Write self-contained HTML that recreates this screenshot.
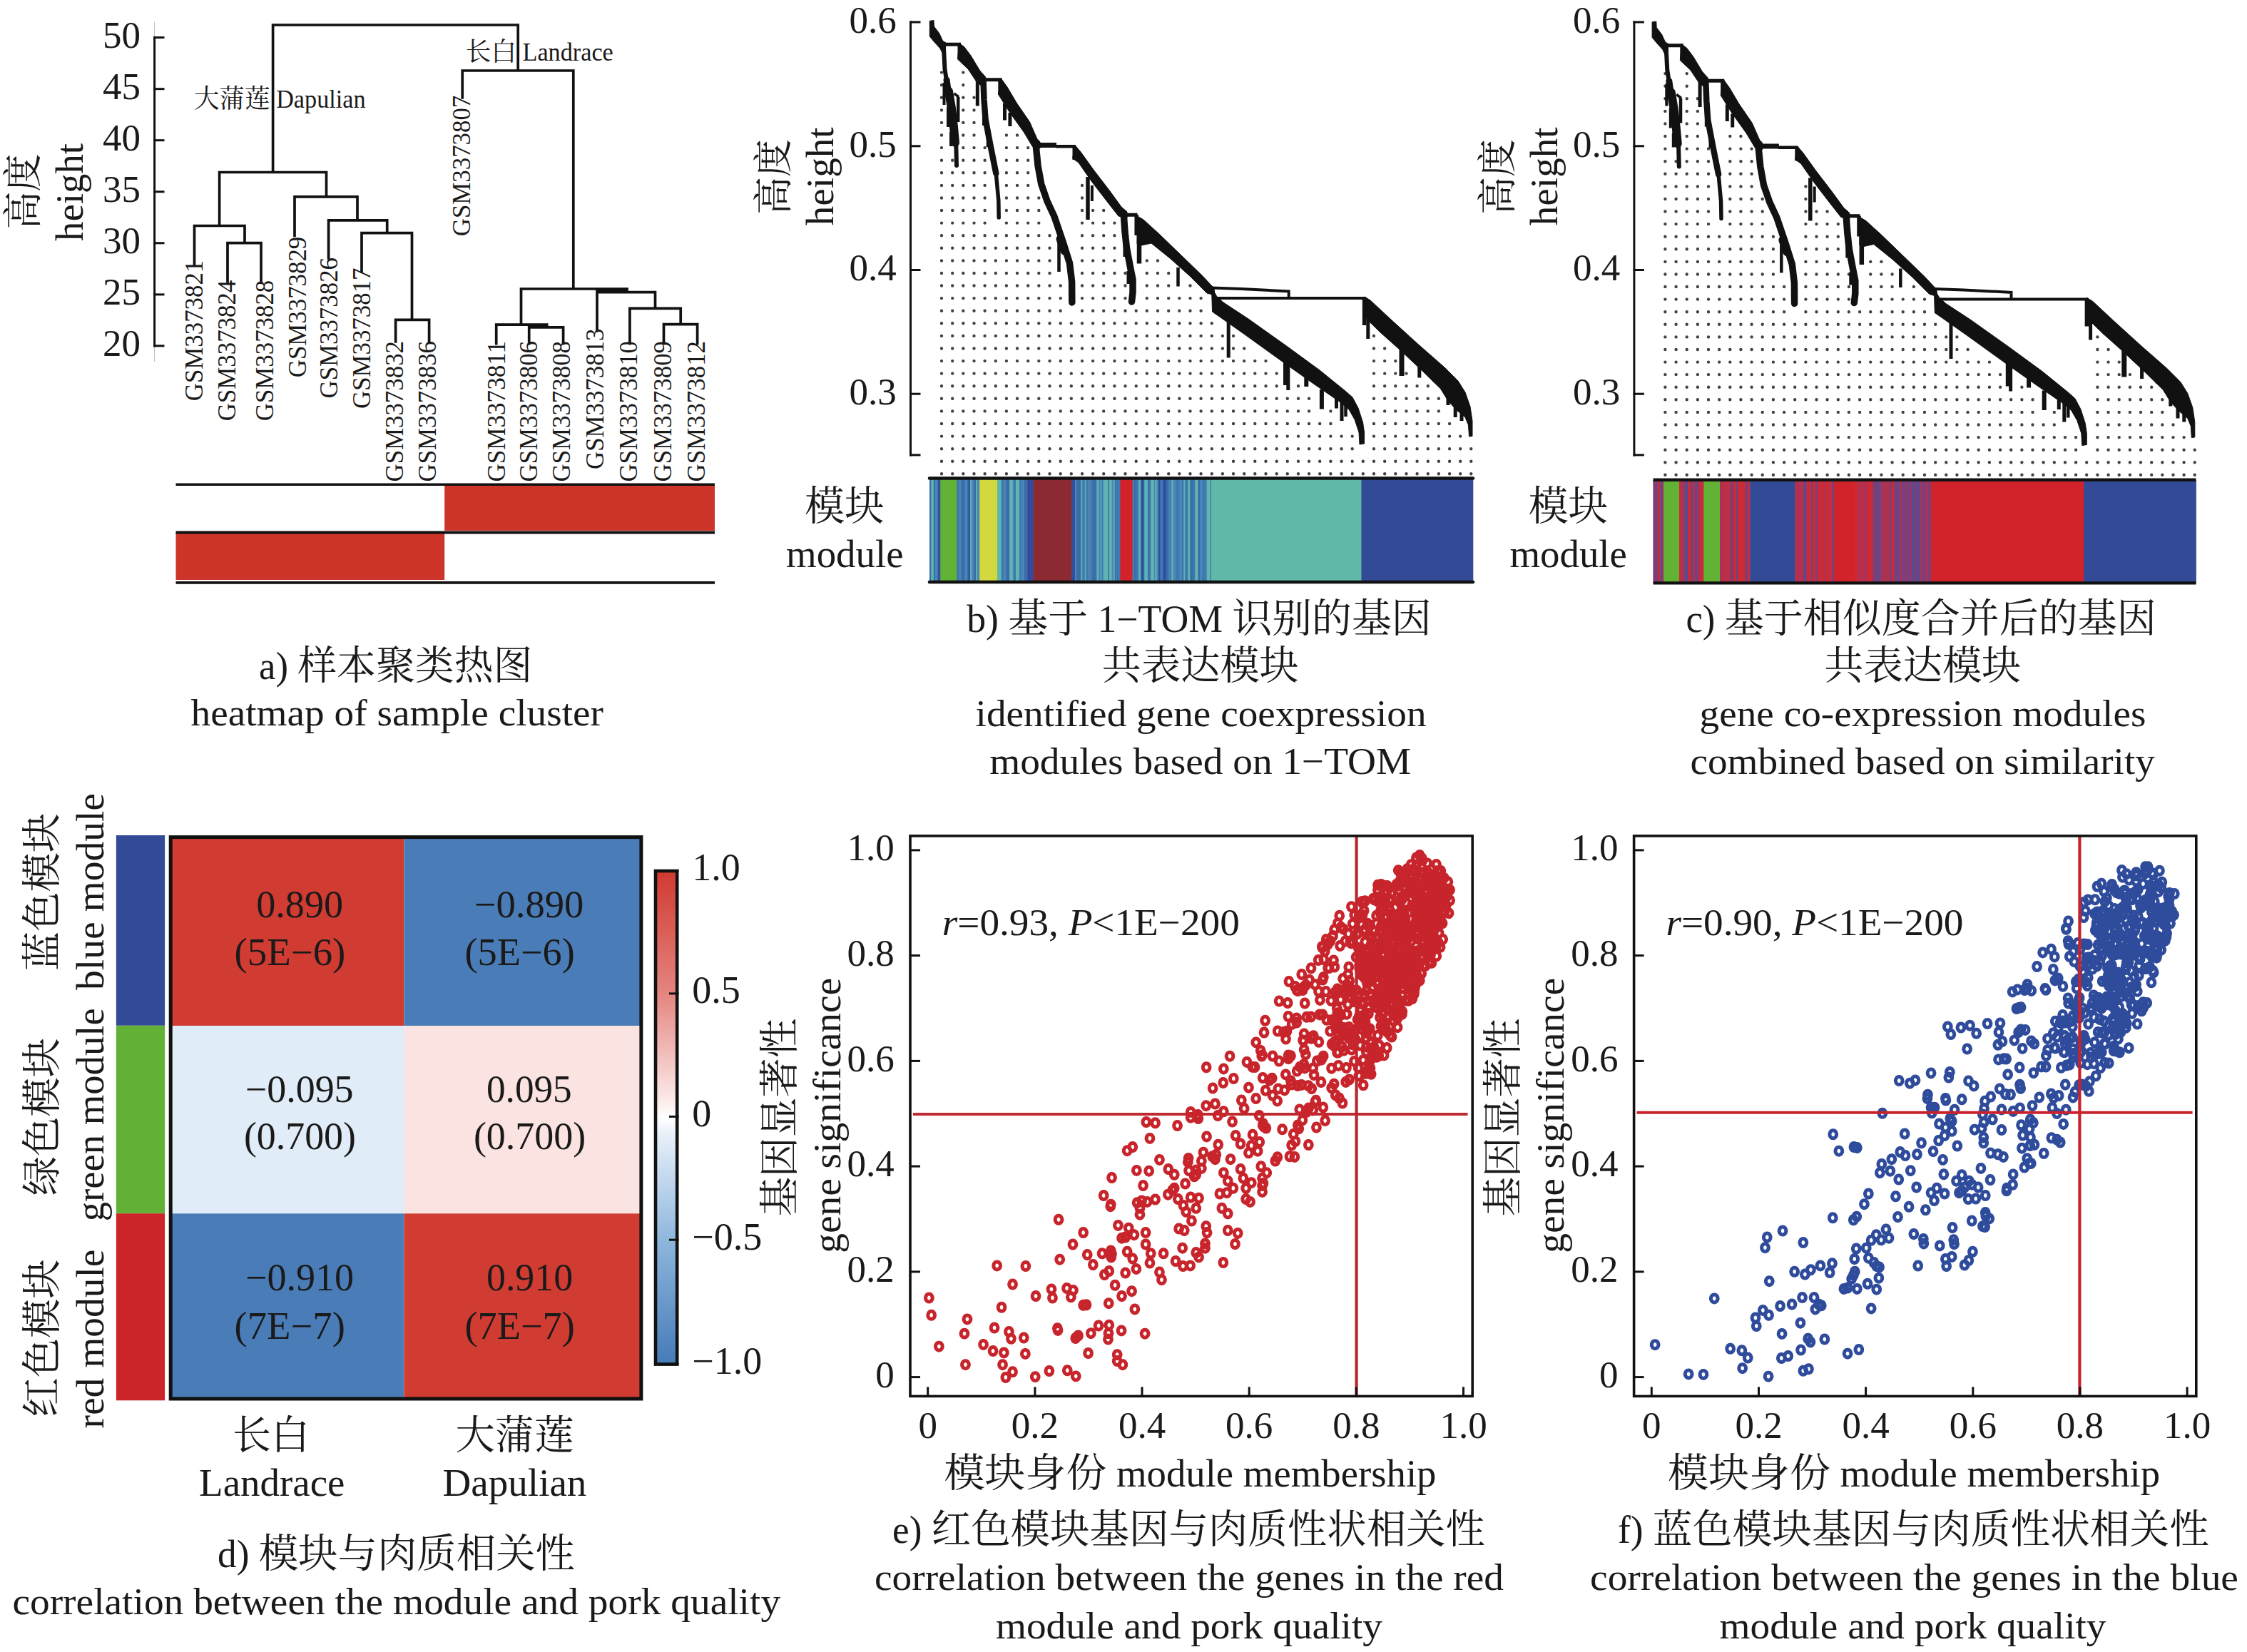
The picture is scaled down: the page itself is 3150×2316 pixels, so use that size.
<!DOCTYPE html>
<html lang="zh"><head><meta charset="utf-8"><title>WGCNA figure</title>
<style>html,body{margin:0;padding:0;background:#fff}svg{display:block}text{font-family:"Liberation Serif","Noto Serif CJK SC",serif;fill:#1a1a1a}.cj{font-family:"Noto Serif CJK SC","Liberation Serif",serif;font-weight:400}.it{font-style:italic}</style></head><body>
<svg width="3150" height="2316" viewBox="0 0 3150 2316">
<rect width="3150" height="2316" fill="#fff"/>
<line x1="216.6" y1="31" x2="216.6" y2="507" stroke="#bbb" stroke-width="1"/>
<line x1="216.6" y1="51.1" x2="216.6" y2="486.4" stroke="#111" stroke-width="3"/>
<line x1="215.1" y1="52.6" x2="230.5" y2="52.6" stroke="#111" stroke-width="3"/>
<text x="197" y="66.9" font-size="53" text-anchor="end">50</text>
<line x1="215.1" y1="124.7" x2="230.5" y2="124.7" stroke="#111" stroke-width="3"/>
<text x="197" y="139" font-size="53" text-anchor="end">45</text>
<line x1="215.1" y1="196.7" x2="230.5" y2="196.7" stroke="#111" stroke-width="3"/>
<text x="197" y="211" font-size="53" text-anchor="end">40</text>
<line x1="215.1" y1="268.8" x2="230.5" y2="268.8" stroke="#111" stroke-width="3"/>
<text x="197" y="283.1" font-size="53" text-anchor="end">35</text>
<line x1="215.1" y1="340.8" x2="230.5" y2="340.8" stroke="#111" stroke-width="3"/>
<text x="197" y="355.1" font-size="53" text-anchor="end">30</text>
<line x1="215.1" y1="412.9" x2="230.5" y2="412.9" stroke="#111" stroke-width="3"/>
<text x="197" y="427.2" font-size="53" text-anchor="end">25</text>
<line x1="215.1" y1="484.9" x2="230.5" y2="484.9" stroke="#111" stroke-width="3"/>
<text x="197" y="499.2" font-size="53" text-anchor="end">20</text>
<text transform="translate(50.5 268.5) rotate(-90)" font-size="55" text-anchor="middle" textLength="106" lengthAdjust="spacingAndGlyphs" class="cj">高度</text>
<text transform="translate(115.6 269.4) rotate(-90)" font-size="54" text-anchor="middle" textLength="137" lengthAdjust="spacingAndGlyphs">height</text>
<path d="M382.6 35L726.2 35M382.6 35L382.6 241.5M726.2 35L726.2 96M307.6 241.5L457.5 241.5M307.6 241.5L307.6 316.5M272.5 316.5L343 316.5M272.5 316.5L272.5 370.6M343 316.5L343 340.6M319 340.6L366 340.6M319 340.6L319 395M366 340.6L366 395M457.5 241.5L457.5 275.8M413 275.8L501 275.8M413 275.8L413 330.5M501 275.8L501 308.8M460.6 308.8L542.7 308.8M460.6 308.8L460.6 362M542.7 308.8L542.7 326.6M507 326.6L577.5 326.6M507 326.6L507 381M577.5 326.6L577.5 448.3M554.6 448.3L601.6 448.3M554.6 448.3L554.6 478.8M601.6 448.3L601.6 478.8M648.2 99L803.8 99M648.2 99L648.2 137M803.8 99L803.8 405M730.5 405L879 405M837 407L879 407M837 409.6L918.5 409.6M730.5 405L730.5 455.2M695.7 455.2L766.7 455.2M741.7 458.8L789.6 458.8M695.7 455.2L695.7 481.7M741.7 455.2L741.7 481.7M789.6 458.8L789.6 481.7M837 409.6L837 463.6M918.5 409.6L918.5 432.4M882.9 432.4L954.2 432.4M882.9 432.4L882.9 481.7M954.2 432.4L954.2 454.7M930.5 454.7L977.6 454.7M930.5 454.7L930.5 481.7M977.6 454.7L977.6 481.7" fill="none" stroke="#111" stroke-width="3.7" stroke-linejoin="miter" stroke-linecap="square"/>
<text x="272" y="151" font-size="35" textLength="240.5" lengthAdjust="spacingAndGlyphs"><tspan class="cj" font-size="36.4">大蒲莲</tspan> Dapulian</text>
<text x="652.8" y="85" font-size="35" textLength="207" lengthAdjust="spacingAndGlyphs"><tspan class="cj" font-size="36.4">长白</tspan> Landrace</text>
<text transform="translate(284.2 562.2) rotate(-90)" font-size="36.5" textLength="197.5" lengthAdjust="spacingAndGlyphs">GSM3373821</text>
<text transform="translate(329.9 590.2) rotate(-90)" font-size="36.5" textLength="197.5" lengthAdjust="spacingAndGlyphs">GSM3373824</text>
<text transform="translate(382.8 590.2) rotate(-90)" font-size="36.5" textLength="197.5" lengthAdjust="spacingAndGlyphs">GSM3373828</text>
<text transform="translate(429.1 529.2) rotate(-90)" font-size="36.5" textLength="197.5" lengthAdjust="spacingAndGlyphs">GSM3373829</text>
<text transform="translate(473 558.5) rotate(-90)" font-size="36.5" textLength="197.5" lengthAdjust="spacingAndGlyphs">GSM3373826</text>
<text transform="translate(519.3 573) rotate(-90)" font-size="36.5" textLength="197.5" lengthAdjust="spacingAndGlyphs">GSM3373817</text>
<text transform="translate(565.1 675.5) rotate(-90)" font-size="36.5" textLength="197.5" lengthAdjust="spacingAndGlyphs">GSM3373832</text>
<text transform="translate(610.8 675.5) rotate(-90)" font-size="36.5" textLength="197.5" lengthAdjust="spacingAndGlyphs">GSM3373836</text>
<text transform="translate(658.8 331.2) rotate(-90)" font-size="36.5" textLength="197.5" lengthAdjust="spacingAndGlyphs">GSM3373807</text>
<text transform="translate(708.1 675.5) rotate(-90)" font-size="36.5" textLength="197.5" lengthAdjust="spacingAndGlyphs">GSM3373811</text>
<text transform="translate(753.1 675.5) rotate(-90)" font-size="36.5" textLength="197.5" lengthAdjust="spacingAndGlyphs">GSM3373806</text>
<text transform="translate(799.1 675.5) rotate(-90)" font-size="36.5" textLength="197.5" lengthAdjust="spacingAndGlyphs">GSM3373808</text>
<text transform="translate(845.6 658) rotate(-90)" font-size="36.5" textLength="197.5" lengthAdjust="spacingAndGlyphs">GSM3373813</text>
<text transform="translate(893.3 675.5) rotate(-90)" font-size="36.5" textLength="197.5" lengthAdjust="spacingAndGlyphs">GSM3373810</text>
<text transform="translate(941.1 675.5) rotate(-90)" font-size="36.5" textLength="197.5" lengthAdjust="spacingAndGlyphs">GSM3373809</text>
<text transform="translate(987.7 675.5) rotate(-90)" font-size="36.5" textLength="197.5" lengthAdjust="spacingAndGlyphs">GSM3373812</text>
<rect x="623.2" y="680" width="378.8" height="64" fill="#CE352A"/>
<rect x="246.5" y="747" width="376.7" height="66" fill="#CE352A"/>
<line x1="246.5" y1="679.3" x2="1002" y2="679.3" stroke="#111" stroke-width="3.6"/>
<line x1="246.5" y1="746.5" x2="1002" y2="746.5" stroke="#111" stroke-width="4"/>
<line x1="246.5" y1="816.9" x2="1002" y2="816.9" stroke="#111" stroke-width="3.6"/>
<text x="363" y="951.8" font-size="54" textLength="383.5" lengthAdjust="spacingAndGlyphs">a) <tspan class="cj" font-size="56.2">样本聚类热图</tspan></text>
<text x="267.6" y="1016.6" font-size="53" textLength="578.4" lengthAdjust="spacingAndGlyphs">heatmap of sample cluster</text>
<defs><g id="tree">
<path d="M1303.3 29.4L1309 28.6L1309.4 37L1316.8 46.8L1321.7 57.5L1326 60L1324.5 82L1318 68L1309 58L1303.3 51Z" fill="#111" stroke="#111" stroke-width="1" stroke-linejoin="round"/>
<path d="M1322.8 64L1324.5 97L1329 126L1334 150L1337.5 175L1340.3 204L1341 232" fill="none" stroke="#111" stroke-width="6" stroke-linejoin="round" stroke-linecap="round"/>
<path d="M1330 128L1334 152L1337 178L1339 200" fill="none" stroke="#111" stroke-width="12" stroke-linejoin="round" stroke-linecap="round"/>
<path d="M1327 112L1331 140" fill="none" stroke="#111" stroke-width="9" stroke-linejoin="round" stroke-linecap="round"/>
<path d="M1344.7 60.5L1352 66L1361 78L1373.5 98.8L1381.7 108L1381.7 121.4L1377.6 121.4L1369.4 115.3L1357 96.7L1342.5 83Z" fill="#111" stroke="#111" stroke-width="1" stroke-linejoin="round"/>
<path d="M1378.5 113L1379.5 140L1381.5 167L1388.5 204L1396.3 243" fill="none" stroke="#111" stroke-width="8.5" stroke-linejoin="round" stroke-linecap="round"/>
<path d="M1396.3 243L1399.8 281L1400.2 305" fill="none" stroke="#111" stroke-width="5.5" stroke-linejoin="round" stroke-linecap="round"/>
<path d="M1403.4 110L1412 122L1425 144L1443.5 170.9L1453.8 194.5L1458 199L1458 208L1447.6 205.8L1435.3 185.3L1414.7 156.4L1399.3 132Z" fill="#111" stroke="#111" stroke-width="1" stroke-linejoin="round"/>
<path d="M1452.5 207L1455 232L1459.7 258L1468 282L1478 303.5L1490.6 340.6L1499.5 369L1502.6 395L1502.8 424" fill="none" stroke="#111" stroke-width="9.5" stroke-linejoin="round" stroke-linecap="round"/>
<path d="M1486 335L1492 352" fill="none" stroke="#111" stroke-width="11" stroke-linejoin="round" stroke-linecap="round"/>
<path d="M1507 203.5L1515 213L1533 238L1556 268L1572 290L1580 297L1580 306L1568 303L1550 280L1530 254L1512 228L1503.6 222Z" fill="#111" stroke="#111" stroke-width="1" stroke-linejoin="round"/>
<path d="M1575.5 304L1577 325L1579.5 348L1584 372L1588 392L1588 410L1586.5 423" fill="none" stroke="#111" stroke-width="9.5" stroke-linejoin="round" stroke-linecap="round"/>
<path d="M1594.5 303L1603 308L1625 328L1655 357L1685 386L1699 401L1702 403.5L1703 414L1692 411L1668 387L1640 362L1614 341L1600 344L1594 342Z" fill="#111" stroke="#111" stroke-width="1" stroke-linejoin="round"/>
<path d="M1698.5 403L1706 416L1715 424L1750 447L1803.5 485L1850 519L1885.8 548L1896 557L1904 572L1910.5 592L1912.5 606L1912.5 622L1906 623L1905 606L1899 588L1891 574L1877 562.5L1840 537L1795 505L1745 469L1711 445L1699.5 437Z" fill="#111" stroke="#111" stroke-width="1" stroke-linejoin="round"/>
<path d="M1913 416L1921 421L1950 448L1988.5 483L2025 515L2044 534L2054 550L2061 570L2064 590L2064 611.5L2059.5 612L2058.5 596L2054 585L2050.5 582L2042 575L2030 562L2019.5 545L1995 521L1962 490L1935 466L1910.5 442Z" fill="#111" stroke="#111" stroke-width="1" stroke-linejoin="round"/>
<path d="M1321 62.3L1347 62.3M1345 62.3L1345 82M1370.3 112L1370.3 148.6M1378 111.8L1404.5 111.8M1379.5 140L1379.5 176M1401.8 111.8L1401.8 130M1408.5 145L1408.5 168.5M1415.9 158L1415.9 177M1506 205L1506 224M1574 301.2L1594.5 301.2M1582 380L1582 398M1722.2 450L1722.2 501.5M1801.5 500L1801.5 540M1805.8 500L1805.8 547M1873.5 558L1873.5 572.5M1881 563L1881 590M1917.8 440L1917.8 475M1989.8 507L1989.8 529.5M2011.4 522L2011.4 536M2040.2 558L2040.2 585M2030 548L2030 568M2049 565L2049 590" fill="none" stroke="#111" stroke-width="5" stroke-linejoin="round"/>
<path d="M1343.2 136L1343.2 171M1385 184L1385 206M1480 205.2L1508 205.2M1484.5 340L1484.5 381M1651.5 375L1651.5 401.5M1886.5 566L1886.5 584" fill="none" stroke="#111" stroke-width="4.5" stroke-linejoin="round"/>
<path d="M1337.5 131L1344 136" fill="none" stroke="#111" stroke-width="3.5" stroke-linejoin="round"/>
<path d="M1323.5 116L1323.5 147M1329 150L1329 178M1333 185L1333 205M1530.9 260L1530.9 282M1698 403.6L1740 405L1808.5 408.4M1806.7 407L1806.7 419M1701 418L1914.5 418" fill="none" stroke="#111" stroke-width="4" stroke-linejoin="round"/>
<path d="M1452 203.6L1481 203.6M1965 488L1965 527" fill="none" stroke="#111" stroke-width="7" stroke-linejoin="round"/>
<path d="M1525 248L1525 308M1593.2 301L1593.2 330M1912.6 418L1912.6 456" fill="none" stroke="#111" stroke-width="5.5" stroke-linejoin="round"/>
<path d="M1577.5 330L1577.5 360M1831.3 522L1831.3 542M1852.9 546L1852.9 573.5" fill="none" stroke="#111" stroke-width="6" stroke-linejoin="round"/>
<path d="M1597 330L1597 369.5" fill="none" stroke="#111" stroke-width="6.5" stroke-linejoin="round"/>
</g><g id="dots">
<path d="M1320 101.6h0M1320 119.2h0M1320 136.8h0M1320 154.4h0M1320 171.9h0M1320 189.5h0M1320 207.1h0M1320 224.7h0M1320 242.3h0M1320 259.9h0M1320 277.5h0M1320 295h0M1320 312.6h0M1320 330.2h0M1320 347.8h0M1320 365.4h0M1320 383h0M1320 400.5h0M1320 418.1h0M1320 435.7h0M1320 453.3h0M1320 470.9h0M1320 488.5h0M1320 506.1h0M1320 523.6h0M1320 541.2h0M1320 558.8h0M1320 576.4h0M1320 594h0M1320 611.6h0M1320 629.2h0M1320 646.7h0M1320 664.3h0M1335.2 224.7h0M1335.2 242.3h0M1335.2 259.9h0M1335.2 277.5h0M1335.2 295h0M1335.2 312.6h0M1335.2 330.2h0M1335.2 347.8h0M1335.2 365.4h0M1335.2 383h0M1335.2 400.5h0M1335.2 418.1h0M1335.2 435.7h0M1335.2 453.3h0M1335.2 470.9h0M1335.2 488.5h0M1335.2 506.1h0M1335.2 523.6h0M1335.2 541.2h0M1335.2 558.8h0M1335.2 576.4h0M1335.2 594h0M1335.2 611.6h0M1335.2 629.2h0M1335.2 646.7h0M1335.2 664.3h0M1350.3 101.6h0M1350.3 119.2h0M1350.3 136.8h0M1350.3 154.4h0M1350.3 171.9h0M1350.3 189.5h0M1350.3 207.1h0M1350.3 224.7h0M1350.3 242.3h0M1350.3 259.9h0M1350.3 277.5h0M1350.3 295h0M1350.3 312.6h0M1350.3 330.2h0M1350.3 347.8h0M1350.3 365.4h0M1350.3 383h0M1350.3 400.5h0M1350.3 418.1h0M1350.3 435.7h0M1350.3 453.3h0M1350.3 470.9h0M1350.3 488.5h0M1350.3 506.1h0M1350.3 523.6h0M1350.3 541.2h0M1350.3 558.8h0M1350.3 576.4h0M1350.3 594h0M1350.3 611.6h0M1350.3 629.2h0M1350.3 646.7h0M1350.3 664.3h0M1365.5 136.8h0M1365.5 154.4h0M1365.5 171.9h0M1365.5 189.5h0M1365.5 207.1h0M1365.5 224.7h0M1365.5 242.3h0M1365.5 259.9h0M1365.5 277.5h0M1365.5 295h0M1365.5 312.6h0M1365.5 330.2h0M1365.5 347.8h0M1365.5 365.4h0M1365.5 383h0M1365.5 400.5h0M1365.5 418.1h0M1365.5 435.7h0M1365.5 453.3h0M1365.5 470.9h0M1365.5 488.5h0M1365.5 506.1h0M1365.5 523.6h0M1365.5 541.2h0M1365.5 558.8h0M1365.5 576.4h0M1365.5 594h0M1365.5 611.6h0M1365.5 629.2h0M1365.5 646.7h0M1365.5 664.3h0M1380.6 207.1h0M1380.6 224.7h0M1380.6 242.3h0M1380.6 259.9h0M1380.6 277.5h0M1380.6 295h0M1380.6 312.6h0M1380.6 330.2h0M1380.6 347.8h0M1380.6 365.4h0M1380.6 383h0M1380.6 400.5h0M1380.6 418.1h0M1380.6 435.7h0M1380.6 453.3h0M1380.6 470.9h0M1380.6 488.5h0M1380.6 506.1h0M1380.6 523.6h0M1380.6 541.2h0M1380.6 558.8h0M1380.6 576.4h0M1380.6 594h0M1380.6 611.6h0M1380.6 629.2h0M1380.6 646.7h0M1380.6 664.3h0M1395.8 330.2h0M1395.8 347.8h0M1395.8 365.4h0M1395.8 383h0M1395.8 400.5h0M1395.8 418.1h0M1395.8 435.7h0M1395.8 453.3h0M1395.8 470.9h0M1395.8 488.5h0M1395.8 506.1h0M1395.8 523.6h0M1395.8 541.2h0M1395.8 558.8h0M1395.8 576.4h0M1395.8 594h0M1395.8 611.6h0M1395.8 629.2h0M1395.8 646.7h0M1395.8 664.3h0M1410.9 189.5h0M1410.9 207.1h0M1410.9 224.7h0M1410.9 242.3h0M1410.9 259.9h0M1410.9 277.5h0M1410.9 295h0M1410.9 312.6h0M1410.9 330.2h0M1410.9 347.8h0M1410.9 365.4h0M1410.9 383h0M1410.9 400.5h0M1410.9 418.1h0M1410.9 435.7h0M1410.9 453.3h0M1410.9 470.9h0M1410.9 488.5h0M1410.9 506.1h0M1410.9 523.6h0M1410.9 541.2h0M1410.9 558.8h0M1410.9 576.4h0M1410.9 594h0M1410.9 611.6h0M1410.9 629.2h0M1410.9 646.7h0M1410.9 664.3h0M1426 189.5h0M1426 207.1h0M1426 224.7h0M1426 242.3h0M1426 259.9h0M1426 277.5h0M1426 295h0M1426 312.6h0M1426 330.2h0M1426 347.8h0M1426 365.4h0M1426 383h0M1426 400.5h0M1426 418.1h0M1426 435.7h0M1426 453.3h0M1426 470.9h0M1426 488.5h0M1426 506.1h0M1426 523.6h0M1426 541.2h0M1426 558.8h0M1426 576.4h0M1426 594h0M1426 611.6h0M1426 629.2h0M1426 646.7h0M1426 664.3h0M1441.2 207.1h0M1441.2 224.7h0M1441.2 242.3h0M1441.2 259.9h0M1441.2 277.5h0M1441.2 295h0M1441.2 312.6h0M1441.2 330.2h0M1441.2 347.8h0M1441.2 365.4h0M1441.2 383h0M1441.2 400.5h0M1441.2 418.1h0M1441.2 435.7h0M1441.2 453.3h0M1441.2 470.9h0M1441.2 488.5h0M1441.2 506.1h0M1441.2 523.6h0M1441.2 541.2h0M1441.2 558.8h0M1441.2 576.4h0M1441.2 594h0M1441.2 611.6h0M1441.2 629.2h0M1441.2 646.7h0M1441.2 664.3h0M1456.3 277.5h0M1456.3 295h0M1456.3 312.6h0M1456.3 330.2h0M1456.3 347.8h0M1456.3 365.4h0M1456.3 383h0M1456.3 400.5h0M1456.3 418.1h0M1456.3 435.7h0M1456.3 453.3h0M1456.3 470.9h0M1456.3 488.5h0M1456.3 506.1h0M1456.3 523.6h0M1456.3 541.2h0M1456.3 558.8h0M1456.3 576.4h0M1456.3 594h0M1456.3 611.6h0M1456.3 629.2h0M1456.3 646.7h0M1456.3 664.3h0M1471.5 330.2h0M1471.5 347.8h0M1471.5 365.4h0M1471.5 383h0M1471.5 400.5h0M1471.5 418.1h0M1471.5 435.7h0M1471.5 453.3h0M1471.5 470.9h0M1471.5 488.5h0M1471.5 506.1h0M1471.5 523.6h0M1471.5 541.2h0M1471.5 558.8h0M1471.5 576.4h0M1471.5 594h0M1471.5 611.6h0M1471.5 629.2h0M1471.5 646.7h0M1471.5 664.3h0M1486.7 400.5h0M1486.7 418.1h0M1486.7 435.7h0M1486.7 453.3h0M1486.7 470.9h0M1486.7 488.5h0M1486.7 506.1h0M1486.7 523.6h0M1486.7 541.2h0M1486.7 558.8h0M1486.7 576.4h0M1486.7 594h0M1486.7 611.6h0M1486.7 629.2h0M1486.7 646.7h0M1486.7 664.3h0M1501.8 453.3h0M1501.8 470.9h0M1501.8 488.5h0M1501.8 506.1h0M1501.8 523.6h0M1501.8 541.2h0M1501.8 558.8h0M1501.8 576.4h0M1501.8 594h0M1501.8 611.6h0M1501.8 629.2h0M1501.8 646.7h0M1501.8 664.3h0M1517 259.9h0M1517 277.5h0M1517 295h0M1517 312.6h0M1517 330.2h0M1517 347.8h0M1517 365.4h0M1517 383h0M1517 400.5h0M1517 418.1h0M1517 435.7h0M1517 453.3h0M1517 470.9h0M1517 488.5h0M1517 506.1h0M1517 523.6h0M1517 541.2h0M1517 558.8h0M1517 576.4h0M1517 594h0M1517 611.6h0M1517 629.2h0M1517 646.7h0M1517 664.3h0M1532.1 295h0M1532.1 312.6h0M1532.1 330.2h0M1532.1 347.8h0M1532.1 365.4h0M1532.1 383h0M1532.1 400.5h0M1532.1 418.1h0M1532.1 435.7h0M1532.1 453.3h0M1532.1 470.9h0M1532.1 488.5h0M1532.1 506.1h0M1532.1 523.6h0M1532.1 541.2h0M1532.1 558.8h0M1532.1 576.4h0M1532.1 594h0M1532.1 611.6h0M1532.1 629.2h0M1532.1 646.7h0M1532.1 664.3h0M1547.2 295h0M1547.2 312.6h0M1547.2 330.2h0M1547.2 347.8h0M1547.2 365.4h0M1547.2 383h0M1547.2 400.5h0M1547.2 418.1h0M1547.2 435.7h0M1547.2 453.3h0M1547.2 470.9h0M1547.2 488.5h0M1547.2 506.1h0M1547.2 523.6h0M1547.2 541.2h0M1547.2 558.8h0M1547.2 576.4h0M1547.2 594h0M1547.2 611.6h0M1547.2 629.2h0M1547.2 646.7h0M1547.2 664.3h0M1562.4 312.6h0M1562.4 330.2h0M1562.4 347.8h0M1562.4 365.4h0M1562.4 383h0M1562.4 400.5h0M1562.4 418.1h0M1562.4 435.7h0M1562.4 453.3h0M1562.4 470.9h0M1562.4 488.5h0M1562.4 506.1h0M1562.4 523.6h0M1562.4 541.2h0M1562.4 558.8h0M1562.4 576.4h0M1562.4 594h0M1562.4 611.6h0M1562.4 629.2h0M1562.4 646.7h0M1562.4 664.3h0M1577.5 383h0M1577.5 400.5h0M1577.5 418.1h0M1577.5 435.7h0M1577.5 453.3h0M1577.5 470.9h0M1577.5 488.5h0M1577.5 506.1h0M1577.5 523.6h0M1577.5 541.2h0M1577.5 558.8h0M1577.5 576.4h0M1577.5 594h0M1577.5 611.6h0M1577.5 629.2h0M1577.5 646.7h0M1577.5 664.3h0M1592.7 435.7h0M1592.7 453.3h0M1592.7 470.9h0M1592.7 488.5h0M1592.7 506.1h0M1592.7 523.6h0M1592.7 541.2h0M1592.7 558.8h0M1592.7 576.4h0M1592.7 594h0M1592.7 611.6h0M1592.7 629.2h0M1592.7 646.7h0M1592.7 664.3h0M1607.8 365.4h0M1607.8 383h0M1607.8 400.5h0M1607.8 418.1h0M1607.8 435.7h0M1607.8 453.3h0M1607.8 470.9h0M1607.8 488.5h0M1607.8 506.1h0M1607.8 523.6h0M1607.8 541.2h0M1607.8 558.8h0M1607.8 576.4h0M1607.8 594h0M1607.8 611.6h0M1607.8 629.2h0M1607.8 646.7h0M1607.8 664.3h0M1623 365.4h0M1623 383h0M1623 400.5h0M1623 418.1h0M1623 435.7h0M1623 453.3h0M1623 470.9h0M1623 488.5h0M1623 506.1h0M1623 523.6h0M1623 541.2h0M1623 558.8h0M1623 576.4h0M1623 594h0M1623 611.6h0M1623 629.2h0M1623 646.7h0M1623 664.3h0M1638.2 383h0M1638.2 400.5h0M1638.2 418.1h0M1638.2 435.7h0M1638.2 453.3h0M1638.2 470.9h0M1638.2 488.5h0M1638.2 506.1h0M1638.2 523.6h0M1638.2 541.2h0M1638.2 558.8h0M1638.2 576.4h0M1638.2 594h0M1638.2 611.6h0M1638.2 629.2h0M1638.2 646.7h0M1638.2 664.3h0M1653.3 418.1h0M1653.3 435.7h0M1653.3 453.3h0M1653.3 470.9h0M1653.3 488.5h0M1653.3 506.1h0M1653.3 523.6h0M1653.3 541.2h0M1653.3 558.8h0M1653.3 576.4h0M1653.3 594h0M1653.3 611.6h0M1653.3 629.2h0M1653.3 646.7h0M1653.3 664.3h0M1668.5 400.5h0M1668.5 418.1h0M1668.5 435.7h0M1668.5 453.3h0M1668.5 470.9h0M1668.5 488.5h0M1668.5 506.1h0M1668.5 523.6h0M1668.5 541.2h0M1668.5 558.8h0M1668.5 576.4h0M1668.5 594h0M1668.5 611.6h0M1668.5 629.2h0M1668.5 646.7h0M1668.5 664.3h0M1683.6 418.1h0M1683.6 435.7h0M1683.6 453.3h0M1683.6 470.9h0M1683.6 488.5h0M1683.6 506.1h0M1683.6 523.6h0M1683.6 541.2h0M1683.6 558.8h0M1683.6 576.4h0M1683.6 594h0M1683.6 611.6h0M1683.6 629.2h0M1683.6 646.7h0M1683.6 664.3h0M1698.8 453.3h0M1698.8 470.9h0M1698.8 488.5h0M1698.8 506.1h0M1698.8 523.6h0M1698.8 541.2h0M1698.8 558.8h0M1698.8 576.4h0M1698.8 594h0M1698.8 611.6h0M1698.8 629.2h0M1698.8 646.7h0M1698.8 664.3h0M1713.9 470.9h0M1713.9 488.5h0M1713.9 506.1h0M1713.9 523.6h0M1713.9 541.2h0M1713.9 558.8h0M1713.9 576.4h0M1713.9 594h0M1713.9 611.6h0M1713.9 629.2h0M1713.9 646.7h0M1713.9 664.3h0M1729 470.9h0M1729 488.5h0M1729 506.1h0M1729 523.6h0M1729 541.2h0M1729 558.8h0M1729 576.4h0M1729 594h0M1729 611.6h0M1729 629.2h0M1729 646.7h0M1729 664.3h0M1744.2 488.5h0M1744.2 506.1h0M1744.2 523.6h0M1744.2 541.2h0M1744.2 558.8h0M1744.2 576.4h0M1744.2 594h0M1744.2 611.6h0M1744.2 629.2h0M1744.2 646.7h0M1744.2 664.3h0M1759.3 506.1h0M1759.3 523.6h0M1759.3 541.2h0M1759.3 558.8h0M1759.3 576.4h0M1759.3 594h0M1759.3 611.6h0M1759.3 629.2h0M1759.3 646.7h0M1759.3 664.3h0M1774.5 506.1h0M1774.5 523.6h0M1774.5 541.2h0M1774.5 558.8h0M1774.5 576.4h0M1774.5 594h0M1774.5 611.6h0M1774.5 629.2h0M1774.5 646.7h0M1774.5 664.3h0M1789.7 523.6h0M1789.7 541.2h0M1789.7 558.8h0M1789.7 576.4h0M1789.7 594h0M1789.7 611.6h0M1789.7 629.2h0M1789.7 646.7h0M1789.7 664.3h0M1804.8 558.8h0M1804.8 576.4h0M1804.8 594h0M1804.8 611.6h0M1804.8 629.2h0M1804.8 646.7h0M1804.8 664.3h0M1820 541.2h0M1820 558.8h0M1820 576.4h0M1820 594h0M1820 611.6h0M1820 629.2h0M1820 646.7h0M1820 664.3h0M1835.1 558.8h0M1835.1 576.4h0M1835.1 594h0M1835.1 611.6h0M1835.1 629.2h0M1835.1 646.7h0M1835.1 664.3h0M1850.2 594h0M1850.2 611.6h0M1850.2 629.2h0M1850.2 646.7h0M1850.2 664.3h0M1865.4 576.4h0M1865.4 594h0M1865.4 611.6h0M1865.4 629.2h0M1865.4 646.7h0M1865.4 664.3h0M1880.6 611.6h0M1880.6 629.2h0M1880.6 646.7h0M1880.6 664.3h0M1895.7 611.6h0M1895.7 629.2h0M1895.7 646.7h0M1895.7 664.3h0M1910.8 646.7h0M1910.8 664.3h0M1926 470.9h0M1926 488.5h0M1926 506.1h0M1926 523.6h0M1926 541.2h0M1926 558.8h0M1926 576.4h0M1926 594h0M1926 611.6h0M1926 629.2h0M1926 646.7h0M1926 664.3h0M1941.2 488.5h0M1941.2 506.1h0M1941.2 523.6h0M1941.2 541.2h0M1941.2 558.8h0M1941.2 576.4h0M1941.2 594h0M1941.2 611.6h0M1941.2 629.2h0M1941.2 646.7h0M1941.2 664.3h0M1956.3 506.1h0M1956.3 523.6h0M1956.3 541.2h0M1956.3 558.8h0M1956.3 576.4h0M1956.3 594h0M1956.3 611.6h0M1956.3 629.2h0M1956.3 646.7h0M1956.3 664.3h0M1971.5 523.6h0M1971.5 541.2h0M1971.5 558.8h0M1971.5 576.4h0M1971.5 594h0M1971.5 611.6h0M1971.5 629.2h0M1971.5 646.7h0M1971.5 664.3h0M1986.6 541.2h0M1986.6 558.8h0M1986.6 576.4h0M1986.6 594h0M1986.6 611.6h0M1986.6 629.2h0M1986.6 646.7h0M1986.6 664.3h0M2001.8 541.2h0M2001.8 558.8h0M2001.8 576.4h0M2001.8 594h0M2001.8 611.6h0M2001.8 629.2h0M2001.8 646.7h0M2001.8 664.3h0M2016.9 558.8h0M2016.9 576.4h0M2016.9 594h0M2016.9 611.6h0M2016.9 629.2h0M2016.9 646.7h0M2016.9 664.3h0M2032.1 594h0M2032.1 611.6h0M2032.1 629.2h0M2032.1 646.7h0M2032.1 664.3h0M2047.2 611.6h0M2047.2 629.2h0M2047.2 646.7h0M2047.2 664.3h0M2062.3 629.2h0M2062.3 646.7h0M2062.3 664.3h0" fill="none" stroke="#454045" stroke-width="4.4" stroke-linecap="round"/>
</g></defs>
<use href="#dots" x="0" y="0"/>
<use href="#tree" x="0" y="0"/>
<line x1="1276.5" y1="29.5" x2="1276.5" y2="639.4" stroke="#111" stroke-width="3"/>
<line x1="1275" y1="31" x2="1290.5" y2="31" stroke="#111" stroke-width="3"/>
<text x="1256.8" y="45.8" font-size="53" text-anchor="end">0.6</text>
<line x1="1275" y1="204.8" x2="1290.5" y2="204.8" stroke="#111" stroke-width="3"/>
<text x="1256.8" y="219.6" font-size="53" text-anchor="end">0.5</text>
<line x1="1275" y1="378.5" x2="1290.5" y2="378.5" stroke="#111" stroke-width="3"/>
<text x="1256.8" y="393.3" font-size="53" text-anchor="end">0.4</text>
<line x1="1275" y1="552.2" x2="1290.5" y2="552.2" stroke="#111" stroke-width="3"/>
<text x="1256.8" y="567" font-size="53" text-anchor="end">0.3</text>
<line x1="1275" y1="637.9" x2="1290.5" y2="637.9" stroke="#111" stroke-width="3"/>
<text transform="translate(1103.2 248) rotate(-90)" font-size="55" text-anchor="middle" textLength="106" lengthAdjust="spacingAndGlyphs" class="cj">高度</text>
<text transform="translate(1168.4 247.3) rotate(-90)" font-size="54" text-anchor="middle" textLength="138" lengthAdjust="spacingAndGlyphs">height</text>
<text x="1128.3" y="728.8" font-size="56.5" textLength="111.5" lengthAdjust="spacingAndGlyphs" class="cj">模块</text>
<text x="1102" y="794.5" font-size="54" textLength="164.5" lengthAdjust="spacingAndGlyphs">module</text>
<rect x="1303" y="670.5" width="762" height="145.5" fill="#3F78AE"/>
<path d="M1303 670.5h2.6v145.5h-2.6zM1308.6 670.5h2.7v145.5h-2.7zM1313.9 670.5h1.7v145.5h-1.7zM1317.9 670.5h0.7v145.5h-0.7z" fill="#3B6CA8"/>
<path d="M1305.3 670.5h3.6v145.5h-3.6z" fill="#5CB3B6"/>
<path d="M1311 670.5h3.2v145.5h-3.2z" fill="#4A86B8"/>
<path d="M1315.3 670.5h2.9v145.5h-2.9z" fill="#2F4F9F"/>
<rect x="1318.3" y="670.5" width="23.3" height="145.5" fill="#62B236"/>
<path d="M1341.3 670.5h3.6v145.5h-3.6z" fill="#3F78AE"/>
<path d="M1344.6 670.5h3.4v145.5h-3.4zM1352.1 670.5h4.3v145.5h-4.3zM1361.8 670.5h3.6v145.5h-3.6zM1369.5 670.5h2.9v145.5h-2.9zM1372.1 670.5h1.4v145.5h-1.4z" fill="#4A86B8"/>
<path d="M1347.7 670.5h4.7v145.5h-4.7zM1356.1 670.5h2v145.5h-2zM1365.1 670.5h3.3v145.5h-3.3z" fill="#3B6CA8"/>
<path d="M1357.8 670.5h2.5v145.5h-2.5z" fill="#2F4F9F"/>
<path d="M1360 670.5h2.1v145.5h-2.1z" fill="#5CB3B6"/>
<path d="M1368.1 670.5h1.7v145.5h-1.7z" fill="#62B7AD"/>
<rect x="1373.2" y="670.5" width="25.2" height="145.5" fill="#D2D83E"/>
<path d="M1398.1 670.5h4.1v145.5h-4.1zM1414.9 670.5h2.9v145.5h-2.9zM1419.2 670.5h1.6v145.5h-1.6zM1423.6 670.5h2.5v145.5h-2.5z" fill="#62B7AD"/>
<path d="M1401.9 670.5h2.3v145.5h-2.3zM1417.5 670.5h2v145.5h-2zM1425.8 670.5h3.5v145.5h-3.5zM1439.4 670.5h1.1v145.5h-1.1z" fill="#5CB3B6"/>
<path d="M1403.9 670.5h3.2v145.5h-3.2zM1420.5 670.5h3.4v145.5h-3.4zM1429 670.5h3v145.5h-3z" fill="#3F78AE"/>
<path d="M1406.9 670.5h3.9v145.5h-3.9zM1431.7 670.5h4.6v145.5h-4.6z" fill="#4A86B8"/>
<path d="M1410.5 670.5h4.7v145.5h-4.7zM1436 670.5h3.7v145.5h-3.7z" fill="#3B6CA8"/>
<rect x="1440.2" y="670.5" width="8.7" height="145.5" fill="#334B9F"/>
<rect x="1448.6" y="670.5" width="54.1" height="145.5" fill="#8B2A30"/>
<path d="M1502.4 670.5h4.8v145.5h-4.8z" fill="#2F4F9F"/>
<path d="M1506.9 670.5h2.4v145.5h-2.4zM1516.5 670.5h1.9v145.5h-1.9zM1525.1 670.5h4.2v145.5h-4.2zM1536 670.5h2.1v145.5h-2.1zM1539.7 670.5h3.4v145.5h-3.4zM1558.4 670.5h2.8v145.5h-2.8zM1563.8 670.5h2.2v145.5h-2.2zM1567.1 670.5h2v145.5h-2z" fill="#4A86B8"/>
<path d="M1509 670.5h3.7v145.5h-3.7zM1512.4 670.5h3v145.5h-3zM1531.6 670.5h4.7v145.5h-4.7zM1562.4 670.5h1.7v145.5h-1.7zM1565.7 670.5h1.7v145.5h-1.7zM1570.1 670.5h0.6v145.5h-0.6z" fill="#3B6CA8"/>
<path d="M1515.1 670.5h1.7v145.5h-1.7zM1550 670.5h3.5v145.5h-3.5zM1554.6 670.5h4.1v145.5h-4.1z" fill="#62B7AD"/>
<path d="M1518.2 670.5h2.8v145.5h-2.8zM1522.1 670.5h3.3v145.5h-3.3zM1529 670.5h2.9v145.5h-2.9zM1544.1 670.5h2.7v145.5h-2.7zM1553.2 670.5h1.7v145.5h-1.7zM1568.8 670.5h1.6v145.5h-1.6z" fill="#3F78AE"/>
<path d="M1520.7 670.5h1.8v145.5h-1.8zM1537.8 670.5h2.3v145.5h-2.3zM1542.9 670.5h1.5v145.5h-1.5zM1546.5 670.5h3.8v145.5h-3.8zM1560.9 670.5h1.8v145.5h-1.8z" fill="#5CB3B6"/>
<rect x="1570.4" y="670.5" width="17.5" height="145.5" fill="#D2232A"/>
<path d="M1587.6 670.5h2.3v145.5h-2.3zM1617.3 670.5h2.4v145.5h-2.4zM1621.1 670.5h3.3v145.5h-3.3zM1638 670.5h3.2v145.5h-3.2zM1644.3 670.5h4.7v145.5h-4.7zM1653 670.5h4.7v145.5h-4.7zM1681.8 670.5h4.1v145.5h-4.1zM1689.5 670.5h2.8v145.5h-2.8z" fill="#4A86B8"/>
<path d="M1589.6 670.5h2.7v145.5h-2.7zM1598.8 670.5h1.8v145.5h-1.8zM1602.6 670.5h2v145.5h-2zM1608.7 670.5h2v145.5h-2zM1634.4 670.5h3.9v145.5h-3.9zM1640.9 670.5h1.6v145.5h-1.6zM1657.3 670.5h2.2v145.5h-2.2zM1668 670.5h4.1v145.5h-4.1zM1679 670.5h3.1v145.5h-3.1zM1696.3 670.5h1.8v145.5h-1.8z" fill="#3B6CA8"/>
<path d="M1592 670.5h4.3v145.5h-4.3zM1610.3 670.5h3.2v145.5h-3.2zM1626 670.5h4.8v145.5h-4.8zM1648.7 670.5h4.6v145.5h-4.6zM1661.1 670.5h4.5v145.5h-4.5zM1671.9 670.5h3.7v145.5h-3.7zM1685.6 670.5h4.1v145.5h-4.1z" fill="#3F78AE"/>
<path d="M1596 670.5h3v145.5h-3zM1604.3 670.5h4.6v145.5h-4.6zM1659.2 670.5h2.1v145.5h-2.1zM1665.3 670.5h3.1v145.5h-3.1z" fill="#5CB3B6"/>
<path d="M1600.3 670.5h2.6v145.5h-2.6zM1624.1 670.5h2.2v145.5h-2.2zM1630.5 670.5h4.2v145.5h-4.2z" fill="#2F4F9F"/>
<path d="M1613.3 670.5h4.3v145.5h-4.3zM1619.4 670.5h2.1v145.5h-2.1zM1642.2 670.5h2.4v145.5h-2.4zM1675.3 670.5h4.1v145.5h-4.1zM1692 670.5h4.6v145.5h-4.6z" fill="#62B7AD"/>
<rect x="1697.8" y="670.5" width="211" height="145.5" fill="#5FB8A8"/>
<rect x="1908.5" y="670.5" width="156.8" height="145.5" fill="#334B96"/>
<line x1="1303" y1="670.5" x2="2065" y2="670.5" stroke="#111" stroke-width="4.6" stroke-linecap="round"/>
<line x1="1303" y1="816" x2="2065" y2="816" stroke="#111" stroke-width="4.6" stroke-linecap="round"/>
<use href="#dots" x="1014.4" y="1.5"/>
<use href="#tree" x="1012.8" y="1.5"/>
<line x1="2290.9" y1="29.5" x2="2290.9" y2="639.4" stroke="#111" stroke-width="3"/>
<line x1="2289.4" y1="31" x2="2304.9" y2="31" stroke="#111" stroke-width="3"/>
<text x="2271.2" y="45.8" font-size="53" text-anchor="end">0.6</text>
<line x1="2289.4" y1="204.8" x2="2304.9" y2="204.8" stroke="#111" stroke-width="3"/>
<text x="2271.2" y="219.6" font-size="53" text-anchor="end">0.5</text>
<line x1="2289.4" y1="378.5" x2="2304.9" y2="378.5" stroke="#111" stroke-width="3"/>
<text x="2271.2" y="393.3" font-size="53" text-anchor="end">0.4</text>
<line x1="2289.4" y1="552.2" x2="2304.9" y2="552.2" stroke="#111" stroke-width="3"/>
<text x="2271.2" y="567" font-size="53" text-anchor="end">0.3</text>
<line x1="2289.4" y1="637.9" x2="2304.9" y2="637.9" stroke="#111" stroke-width="3"/>
<text transform="translate(2117.6 248) rotate(-90)" font-size="55" text-anchor="middle" textLength="106" lengthAdjust="spacingAndGlyphs" class="cj">高度</text>
<text transform="translate(2182.8 247.3) rotate(-90)" font-size="54" text-anchor="middle" textLength="138" lengthAdjust="spacingAndGlyphs">height</text>
<text x="2142.7" y="728.8" font-size="56.5" textLength="111.5" lengthAdjust="spacingAndGlyphs" class="cj">模块</text>
<text x="2116.4" y="794.5" font-size="54" textLength="164.5" lengthAdjust="spacingAndGlyphs">module</text>
<rect x="2317.6" y="672.8" width="760.9" height="144.6" fill="#A8335A"/>
<path d="M2317.6 672.8h3v144.6h-3zM2320.3 672.8h4.5v144.6h-4.5z" fill="#7A3F7A"/>
<path d="M2324.5 672.8h3.4v144.6h-3.4zM2330.6 672.8h1.9v144.6h-1.9z" fill="#CE2A33"/>
<path d="M2327.7 672.8h3.2v144.6h-3.2z" fill="#5A4A90"/>
<rect x="2332.2" y="672.8" width="22.1" height="144.6" fill="#62B236"/>
<path d="M2354 672.8h2.5v144.6h-2.5zM2365.8 672.8h3.5v144.6h-3.5zM2370.3 672.8h1.7v144.6h-1.7zM2382.1 672.8h3v144.6h-3z" fill="#CE2A33"/>
<path d="M2356.2 672.8h4.2v144.6h-4.2zM2379.2 672.8h3.1v144.6h-3.1z" fill="#A8335A"/>
<path d="M2360.1 672.8h1.6v144.6h-1.6zM2373.7 672.8h3v144.6h-3zM2384.8 672.8h3.9v144.6h-3.9z" fill="#C02F45"/>
<path d="M2361.4 672.8h4.7v144.6h-4.7zM2376.3 672.8h3.2v144.6h-3.2z" fill="#5A4A90"/>
<path d="M2369 672.8h1.5v144.6h-1.5zM2371.7 672.8h2.3v144.6h-2.3z" fill="#7A3F7A"/>
<rect x="2388.4" y="672.8" width="22.9" height="144.6" fill="#62B236"/>
<path d="M2411 672.8h4.3v144.6h-4.3zM2417.2 672.8h2.5v144.6h-2.5z" fill="#A8335A"/>
<path d="M2415 672.8h2.5v144.6h-2.5zM2424.4 672.8h1.5v144.6h-1.5zM2429.8 672.8h4.7v144.6h-4.7zM2435.6 672.8h4.1v144.6h-4.1zM2440.9 672.8h4v144.6h-4zM2444.6 672.8h2.3v144.6h-2.3zM2450.4 672.8h3v144.6h-3z" fill="#CE2A33"/>
<path d="M2419.4 672.8h2.8v144.6h-2.8zM2421.9 672.8h2.8v144.6h-2.8zM2439.4 672.8h1.8v144.6h-1.8z" fill="#C02F45"/>
<path d="M2425.6 672.8h4.5v144.6h-4.5zM2446.6 672.8h4.1v144.6h-4.1z" fill="#7A3F7A"/>
<path d="M2434.2 672.8h1.7v144.6h-1.7zM2453.1 672.8h1.2v144.6h-1.2z" fill="#5A4A90"/>
<rect x="2454" y="672.8" width="62.2" height="144.6" fill="#334B96"/>
<path d="M2515.9 672.8h1.9v144.6h-1.9zM2545.2 672.8h3.1v144.6h-3.1zM2568.2 672.8h3.5v144.6h-3.5z" fill="#7A3F7A"/>
<path d="M2517.5 672.8h2.2v144.6h-2.2zM2526 672.8h2.2v144.6h-2.2zM2533.4 672.8h2.2v144.6h-2.2zM2535.3 672.8h4v144.6h-4zM2540.5 672.8h2.3v144.6h-2.3zM2548 672.8h4.4v144.6h-4.4zM2553.8 672.8h4.2v144.6h-4.2zM2559.5 672.8h4.6v144.6h-4.6zM2571.4 672.8h0.6v144.6h-0.6z" fill="#CE2A33"/>
<path d="M2519.4 672.8h4.7v144.6h-4.7zM2557.7 672.8h2.1v144.6h-2.1z" fill="#A8335A"/>
<path d="M2523.8 672.8h2.5v144.6h-2.5zM2531.9 672.8h1.8v144.6h-1.8zM2542.5 672.8h3v144.6h-3zM2552.1 672.8h2v144.6h-2zM2563.8 672.8h4.6v144.6h-4.6z" fill="#C02F45"/>
<path d="M2527.9 672.8h4.3v144.6h-4.3zM2539.1 672.8h1.7v144.6h-1.7z" fill="#5A4A90"/>
<rect x="2571.7" y="672.8" width="29" height="144.6" fill="#D2232A"/>
<path d="M2600.4 672.8h4.7v144.6h-4.7zM2608.3 672.8h3.5v144.6h-3.5zM2613.2 672.8h1.7v144.6h-1.7zM2617.7 672.8h3.5v144.6h-3.5zM2620.9 672.8h4.5v144.6h-4.5zM2627.3 672.8h1.7v144.6h-1.7zM2640.2 672.8h3.4v144.6h-3.4zM2644.7 672.8h3.8v144.6h-3.8zM2651.5 672.8h3.9v144.6h-3.9zM2700.9 672.8h1.8v144.6h-1.8z" fill="#CE2A33"/>
<path d="M2604.8 672.8h3.8v144.6h-3.8zM2611.5 672.8h2.1v144.6h-2.1zM2614.7 672.8h3.3v144.6h-3.3zM2636.9 672.8h3.7v144.6h-3.7zM2663.2 672.8h3.9v144.6h-3.9zM2670.7 672.8h2.7v144.6h-2.7zM2677.2 672.8h2.9v144.6h-2.9zM2691.7 672.8h4.4v144.6h-4.4zM2698.3 672.8h3v144.6h-3zM2705.6 672.8h2.3v144.6h-2.3z" fill="#A8335A"/>
<path d="M2625.2 672.8h2.4v144.6h-2.4zM2631.1 672.8h1.9v144.6h-1.9zM2648.2 672.8h3.6v144.6h-3.6zM2655.1 672.8h4.8v144.6h-4.8zM2683.8 672.8h3.6v144.6h-3.6zM2702.4 672.8h3.5v144.6h-3.5z" fill="#7A3F7A"/>
<path d="M2628.7 672.8h2.7v144.6h-2.7zM2679.8 672.8h4.3v144.6h-4.3zM2687.1 672.8h3.4v144.6h-3.4zM2695.8 672.8h2.8v144.6h-2.8zM2707.5 672.8h0.4v144.6h-0.4z" fill="#5A4A90"/>
<path d="M2632.7 672.8h4.4v144.6h-4.4zM2643.4 672.8h1.6v144.6h-1.6zM2659.6 672.8h3.9v144.6h-3.9zM2666.9 672.8h4.1v144.6h-4.1zM2673 672.8h4.5v144.6h-4.5zM2690.2 672.8h1.8v144.6h-1.8z" fill="#6B4585"/>
<rect x="2707.6" y="672.8" width="213.7" height="144.6" fill="#D2232A"/>
<rect x="2921" y="672.8" width="157.8" height="144.6" fill="#334B96"/>
<line x1="2317.6" y1="672.8" x2="3078.5" y2="672.8" stroke="#111" stroke-width="4.4"/>
<line x1="2317.6" y1="817.4" x2="3078.5" y2="817.4" stroke="#111" stroke-width="4.4"/>
<text x="1355.2" y="885.9" font-size="54" textLength="651.5" lengthAdjust="spacingAndGlyphs">b) <tspan class="cj" font-size="56.2">基于</tspan> 1−TOM <tspan class="cj" font-size="56.2">识别的基因</tspan></text>
<text x="1544.8" y="952.2" font-size="56.2" textLength="276" lengthAdjust="spacingAndGlyphs" class="cj">共表达模块</text>
<text x="1367.6" y="1017.6" font-size="53" textLength="631.9" lengthAdjust="spacingAndGlyphs">identified gene coexpression</text>
<text x="1387.2" y="1085.2" font-size="53" textLength="591" lengthAdjust="spacingAndGlyphs">modules based on 1−TOM</text>
<text x="2363.4" y="885.9" font-size="54" textLength="659.3" lengthAdjust="spacingAndGlyphs">c) <tspan class="cj" font-size="56.2">基于相似度合并后的基因</tspan></text>
<text x="2557.3" y="952.2" font-size="56.2" textLength="276" lengthAdjust="spacingAndGlyphs" class="cj">共表达模块</text>
<text x="2382.6" y="1017.6" font-size="53" textLength="625.8" lengthAdjust="spacingAndGlyphs">gene co-expression modules</text>
<text x="2369.4" y="1085.2" font-size="53" textLength="651.5" lengthAdjust="spacingAndGlyphs">combined based on similarity</text>
<rect x="162.9" y="1171" width="68.2" height="266.8" fill="#334B96"/>
<rect x="162.9" y="1437.8" width="68.2" height="263.4" fill="#62B036"/>
<rect x="162.9" y="1701.2" width="68.2" height="262.1" fill="#CC2529"/>
<rect x="239" y="1173.5" width="327.5" height="264.5" fill="#D03B32"/>
<rect x="566.5" y="1173.5" width="332.5" height="264.5" fill="#4A7DB8"/>
<rect x="239" y="1438" width="327.5" height="263.3" fill="#E0ECF7"/>
<rect x="566.5" y="1438" width="332.5" height="263.3" fill="#FAE3E1"/>
<rect x="239" y="1701.3" width="327.5" height="259.7" fill="#4A7DB8"/>
<rect x="566.5" y="1701.3" width="332.5" height="259.7" fill="#D03B32"/>
<rect x="239.2" y="1173.6" width="659.7" height="787.4" fill="none" stroke="#111" stroke-width="5"/>
<text x="359.2" y="1286" font-size="54" textLength="121.9" lengthAdjust="spacingAndGlyphs">0.890</text>
<text x="328.5" y="1353.2" font-size="54" textLength="155.9" lengthAdjust="spacingAndGlyphs">(5E−6)</text>
<text x="664.7" y="1286" font-size="54" textLength="153.7" lengthAdjust="spacingAndGlyphs">−0.890</text>
<text x="651.4" y="1353.2" font-size="54" textLength="154.5" lengthAdjust="spacingAndGlyphs">(5E−6)</text>
<text x="343.8" y="1544.6" font-size="54" textLength="151.8" lengthAdjust="spacingAndGlyphs">−0.095</text>
<text x="341.9" y="1611" font-size="54" textLength="157.1" lengthAdjust="spacingAndGlyphs">(0.700)</text>
<text x="682" y="1544.6" font-size="54" textLength="119.7" lengthAdjust="spacingAndGlyphs">0.095</text>
<text x="663.9" y="1611" font-size="54" textLength="157.3" lengthAdjust="spacingAndGlyphs">(0.700)</text>
<text x="343.9" y="1809.4" font-size="54" textLength="152.2" lengthAdjust="spacingAndGlyphs">−0.910</text>
<text x="328.5" y="1877.2" font-size="54" textLength="155.4" lengthAdjust="spacingAndGlyphs">(7E−7)</text>
<text x="682" y="1809.4" font-size="54" textLength="121.1" lengthAdjust="spacingAndGlyphs">0.910</text>
<text x="651.4" y="1877.2" font-size="54" textLength="154.5" lengthAdjust="spacingAndGlyphs">(7E−7)</text>
<defs><linearGradient id="cbg" x1="0" y1="0" x2="0" y2="1"><stop offset="0" stop-color="#D03A30"/><stop offset="0.25" stop-color="#E48580"/><stop offset="0.47" stop-color="#FBEDEB"/><stop offset="0.5" stop-color="#FFFFFF"/><stop offset="0.53" stop-color="#EAF1F9"/><stop offset="0.75" stop-color="#8DB6DC"/><stop offset="1" stop-color="#467BB8"/></linearGradient></defs>
<rect x="919" y="1221" width="30.2" height="691.6" fill="url(#cbg)" stroke="#111" stroke-width="4.6"/>
<line x1="938" y1="1220.7" x2="951.5" y2="1220.7" stroke="#111" stroke-width="3"/>
<text x="970.2" y="1234.1" font-size="54">1.0</text>
<line x1="938" y1="1392.9" x2="951.5" y2="1392.9" stroke="#111" stroke-width="3"/>
<text x="970.2" y="1406.3" font-size="54">0.5</text>
<line x1="938" y1="1565.4" x2="951.5" y2="1565.4" stroke="#111" stroke-width="3"/>
<text x="970.2" y="1578.8" font-size="54">0</text>
<line x1="938" y1="1738.2" x2="951.5" y2="1738.2" stroke="#111" stroke-width="3"/>
<text x="970.2" y="1751.6" font-size="54">−0.5</text>
<line x1="938" y1="1912.2" x2="951.5" y2="1912.2" stroke="#111" stroke-width="3"/>
<text x="970.2" y="1925.6" font-size="54">−1.0</text>
<text x="326" y="2030.5" font-size="56" textLength="108" lengthAdjust="spacingAndGlyphs" class="cj">长白</text>
<text x="279.1" y="2097.1" font-size="55" textLength="204.4" lengthAdjust="spacingAndGlyphs">Landrace</text>
<text x="638.5" y="2030.5" font-size="56" textLength="166" lengthAdjust="spacingAndGlyphs" class="cj">大蒲莲</text>
<text x="620.6" y="2097.1" font-size="55" textLength="201.8" lengthAdjust="spacingAndGlyphs">Dapulian</text>
<text transform="translate(77.5 1250.5) rotate(-90)" font-size="56" text-anchor="middle" textLength="221" lengthAdjust="spacingAndGlyphs" class="cj">蓝色模块</text>
<text transform="translate(144.8 1250) rotate(-90)" font-size="54" text-anchor="middle" textLength="276" lengthAdjust="spacingAndGlyphs">blue module</text>
<text transform="translate(77.5 1565.7) rotate(-90)" font-size="56" text-anchor="middle" textLength="221" lengthAdjust="spacingAndGlyphs" class="cj">绿色模块</text>
<text transform="translate(144.8 1562.8) rotate(-90)" font-size="54" text-anchor="middle" textLength="299" lengthAdjust="spacingAndGlyphs">green module</text>
<text transform="translate(77.5 1876) rotate(-90)" font-size="56" text-anchor="middle" textLength="221" lengthAdjust="spacingAndGlyphs" class="cj">红色模块</text>
<text transform="translate(144.8 1877) rotate(-90)" font-size="54" text-anchor="middle" textLength="251" lengthAdjust="spacingAndGlyphs">red module</text>
<text x="305" y="2196.8" font-size="54" textLength="501" lengthAdjust="spacingAndGlyphs">d) <tspan class="cj" font-size="56.2">模块与肉质相关性</tspan></text>
<text x="17.4" y="2263" font-size="53" textLength="1076.7" lengthAdjust="spacingAndGlyphs">correlation between the module and pork quality</text>
<line x1="1280" y1="1562" x2="2057.5" y2="1562" stroke="#BF2A30" stroke-width="4"/>
<line x1="1901.6" y1="1171.9" x2="1901.6" y2="1957.4" stroke="#B5282E" stroke-width="4.2"/>
<path d="M1690.7 1544.7a4.8 5.5 0 1 0 .1 0zM1703.4 1542.1a4.8 5.5 0 1 0 .1 0zM1740.3 1537a4.8 5.5 0 1 0 .1 0zM1760.6 1534.5a4.8 5.5 0 1 0 .1 0zM1744.1 1548.5a4.8 5.5 0 1 0 .1 0zM1669.1 1553.6a4.8 5.5 0 1 0 .1 0zM1679.3 1557.4a4.8 5.5 0 1 0 .1 0zM1669.1 1561.2a4.8 5.5 0 1 0 .1 0zM1679.8 1562.5a4.8 5.5 0 1 0 .1 0zM1707.2 1558.6a4.8 5.5 0 1 0 .1 0zM1715.3 1552.8a4.8 5.5 0 1 0 .1 0zM1727.5 1567a4.8 5.5 0 1 0 .1 0zM1765.2 1558.6a4.8 5.5 0 1 0 .1 0zM1606.8 1567.5a4.8 5.5 0 1 0 .1 0zM1619.5 1568.8a4.8 5.5 0 1 0 .1 0zM1650.5 1572.6a4.8 5.5 0 1 0 .1 0zM1611.9 1590.4a4.8 5.5 0 1 0 .1 0zM1691.5 1587.9a4.8 5.5 0 1 0 .1 0zM1732.1 1586.6a4.8 5.5 0 1 0 .1 0zM1756 1585.3a4.8 5.5 0 1 0 .1 0zM1739 1598a4.8 5.5 0 1 0 .1 0zM1707.7 1599.3a4.8 5.5 0 1 0 .1 0zM1765.7 1595.5a4.8 5.5 0 1 0 .1 0zM1754.2 1600.6a4.8 5.5 0 1 0 .1 0zM1750.4 1610.8a4.8 5.5 0 1 0 .1 0zM1763.1 1608.2a4.8 5.5 0 1 0 .1 0zM1580.1 1607.7a4.8 5.5 0 1 0 .1 0zM1587.7 1602.6a4.8 5.5 0 1 0 .1 0zM1625.4 1620.4a4.8 5.5 0 1 0 .1 0zM1666 1618.4a4.8 5.5 0 1 0 .1 0zM1665.3 1623.5a4.8 5.5 0 1 0 .1 0zM1686.9 1610.2a4.8 5.5 0 1 0 .1 0zM1684.3 1622.2a4.8 5.5 0 1 0 .1 0zM1699.6 1615.8a4.8 5.5 0 1 0 .1 0zM1704.7 1613.3a4.8 5.5 0 1 0 .1 0zM1703.4 1619.7a4.8 5.5 0 1 0 .1 0zM1725 1619.7a4.8 5.5 0 1 0 .1 0zM1593.3 1635.4a4.8 5.5 0 1 0 .1 0zM1610.6 1636.2a4.8 5.5 0 1 0 .1 0zM1637.8 1633.6a4.8 5.5 0 1 0 .1 0zM1646.2 1641.3a4.8 5.5 0 1 0 .1 0zM1666.5 1635.7a4.8 5.5 0 1 0 .1 0zM1676.7 1634.9a4.8 5.5 0 1 0 .1 0zM1684.3 1632.4a4.8 5.5 0 1 0 .1 0zM1676.7 1641.3a4.8 5.5 0 1 0 .1 0zM1674.2 1643.8a4.8 5.5 0 1 0 .1 0zM1715.3 1638.7a4.8 5.5 0 1 0 .1 0zM1739 1633.6a4.8 5.5 0 1 0 .1 0zM1767.7 1629.8a4.8 5.5 0 1 0 .1 0zM1558.5 1645.6a4.8 5.5 0 1 0 .1 0zM1602.5 1656.5a4.8 5.5 0 1 0 .1 0zM1661.5 1654a4.8 5.5 0 1 0 .1 0zM1646.2 1660.3a4.8 5.5 0 1 0 .1 0zM1643.7 1662.9a4.8 5.5 0 1 0 .1 0zM1721.2 1650.2a4.8 5.5 0 1 0 .1 0zM1742.8 1646.3a4.8 5.5 0 1 0 .1 0zM1754.2 1652.7a4.8 5.5 0 1 0 .1 0zM1746.6 1660.3a4.8 5.5 0 1 0 .1 0zM1728.8 1660.3a4.8 5.5 0 1 0 .1 0zM1719.9 1666.7a4.8 5.5 0 1 0 .1 0zM1709.8 1668a4.8 5.5 0 1 0 .1 0zM1769.5 1646.3a4.8 5.5 0 1 0 .1 0zM1769.5 1656.5a4.8 5.5 0 1 0 .1 0zM1769.5 1665.4a4.8 5.5 0 1 0 .1 0zM1547.1 1670.5a4.8 5.5 0 1 0 .1 0zM1637.3 1669.2a4.8 5.5 0 1 0 .1 0zM1651.3 1675.6a4.8 5.5 0 1 0 .1 0zM1669.1 1673a4.8 5.5 0 1 0 .1 0zM1680.5 1674.3a4.8 5.5 0 1 0 .1 0zM1658.9 1684.5a4.8 5.5 0 1 0 .1 0zM1676.7 1688.3a4.8 5.5 0 1 0 .1 0zM1662.7 1693.4a4.8 5.5 0 1 0 .1 0zM1746.6 1675.6a4.8 5.5 0 1 0 .1 0zM1752.5 1679.4a4.8 5.5 0 1 0 .1 0zM1557.2 1683.2a4.8 5.5 0 1 0 .1 0zM1556.7 1685.7a4.8 5.5 0 1 0 .1 0zM1594.1 1680.7a4.8 5.5 0 1 0 .1 0zM1600.5 1678.1a4.8 5.5 0 1 0 .1 0zM1608.1 1679.4a4.8 5.5 0 1 0 .1 0zM1619.5 1676.1a4.8 5.5 0 1 0 .1 0zM1597.9 1688.3a4.8 5.5 0 1 0 .1 0zM1597.9 1697.2a4.8 5.5 0 1 0 .1 0zM1712.8 1688.3a4.8 5.5 0 1 0 .1 0zM1721.2 1695.9a4.8 5.5 0 1 0 .1 0zM1484 1704.3a4.8 5.5 0 1 0 .1 0zM1670.4 1706.1a4.8 5.5 0 1 0 .1 0zM1567.4 1712.4a4.8 5.5 0 1 0 .1 0zM1582.2 1716.2a4.8 5.5 0 1 0 .1 0zM1690.7 1713.7a4.8 5.5 0 1 0 .1 0zM1692 1722.6a4.8 5.5 0 1 0 .1 0zM1652.6 1717a4.8 5.5 0 1 0 .1 0zM1660.2 1719.6a4.8 5.5 0 1 0 .1 0zM1721.2 1719.6a4.8 5.5 0 1 0 .1 0zM1735.2 1723.4a4.8 5.5 0 1 0 .1 0zM1518.6 1722.6a4.8 5.5 0 1 0 .1 0zM1606 1722.6a4.8 5.5 0 1 0 .1 0zM1589.8 1725.7a4.8 5.5 0 1 0 .1 0zM1577.6 1729a4.8 5.5 0 1 0 .1 0zM1572.5 1730.2a4.8 5.5 0 1 0 .1 0zM1503.9 1739.1a4.8 5.5 0 1 0 .1 0zM1606 1739.1a4.8 5.5 0 1 0 .1 0zM1689.4 1737.9a4.8 5.5 0 1 0 .1 0zM1689.4 1744.2a4.8 5.5 0 1 0 .1 0zM1657.6 1744.2a4.8 5.5 0 1 0 .1 0zM1731.4 1738.6a4.8 5.5 0 1 0 .1 0zM1524.2 1753.6a4.8 5.5 0 1 0 .1 0zM1545 1751.8a4.8 5.5 0 1 0 .1 0zM1557.2 1748a4.8 5.5 0 1 0 .1 0zM1558.5 1752.6a4.8 5.5 0 1 0 .1 0zM1557.7 1756.9a4.8 5.5 0 1 0 .1 0zM1580.1 1749.3a4.8 5.5 0 1 0 .1 0zM1587.7 1759a4.8 5.5 0 1 0 .1 0zM1613.2 1751.8a4.8 5.5 0 1 0 .1 0zM1631 1751.8a4.8 5.5 0 1 0 .1 0zM1676.7 1750.6a4.8 5.5 0 1 0 .1 0zM1680.5 1756.9a4.8 5.5 0 1 0 .1 0zM1485.6 1760.2a4.8 5.5 0 1 0 .1 0zM1611.9 1765.1a4.8 5.5 0 1 0 .1 0zM1648 1762.5a4.8 5.5 0 1 0 .1 0zM1658.4 1769.6a4.8 5.5 0 1 0 .1 0zM1668.6 1768.9a4.8 5.5 0 1 0 .1 0zM1714.8 1764.5a4.8 5.5 0 1 0 .1 0zM1397.6 1768.9a4.8 5.5 0 1 0 .1 0zM1437.8 1769.6a4.8 5.5 0 1 0 .1 0zM1532.3 1767.6a4.8 5.5 0 1 0 .1 0zM1592.8 1773.4a4.8 5.5 0 1 0 .1 0zM1554.7 1776.5a4.8 5.5 0 1 0 .1 0zM1548.3 1781.6a4.8 5.5 0 1 0 .1 0zM1577.6 1779a4.8 5.5 0 1 0 .1 0zM1625.4 1778a4.8 5.5 0 1 0 .1 0zM1628.4 1788.7a4.8 5.5 0 1 0 .1 0zM1419.5 1795a4.8 5.5 0 1 0 .1 0zM1563.1 1796.3a4.8 5.5 0 1 0 .1 0zM1473.9 1801.9a4.8 5.5 0 1 0 .1 0zM1495.5 1800.6a4.8 5.5 0 1 0 .1 0zM1504.4 1803.4a4.8 5.5 0 1 0 .1 0zM1586.5 1804.7a4.8 5.5 0 1 0 .1 0zM1302.3 1814.1a4.8 5.5 0 1 0 .1 0zM1452 1811.6a4.8 5.5 0 1 0 .1 0zM1475.4 1814.1a4.8 5.5 0 1 0 .1 0zM1501.3 1812.8a4.8 5.5 0 1 0 .1 0zM1572.5 1811.6a4.8 5.5 0 1 0 .1 0zM1404 1827.3a4.8 5.5 0 1 0 .1 0zM1518.6 1824.3a4.8 5.5 0 1 0 .1 0zM1522.9 1823.8a4.8 5.5 0 1 0 .1 0zM1554.2 1821.7a4.8 5.5 0 1 0 .1 0zM1590.8 1829.9a4.8 5.5 0 1 0 .1 0zM1305.6 1838.3a4.8 5.5 0 1 0 .1 0zM1355.9 1843.9a4.8 5.5 0 1 0 .1 0zM1394 1856.1a4.8 5.5 0 1 0 .1 0zM1540 1853a4.8 5.5 0 1 0 .1 0zM1554.7 1852.2a4.8 5.5 0 1 0 .1 0zM1482.3 1856.8a4.8 5.5 0 1 0 .1 0zM1483 1859.4a4.8 5.5 0 1 0 .1 0zM1572 1859.9a4.8 5.5 0 1 0 .1 0zM1529.3 1863.7a4.8 5.5 0 1 0 .1 0zM1553.9 1863.7a4.8 5.5 0 1 0 .1 0zM1605 1864.2a4.8 5.5 0 1 0 .1 0zM1351.9 1864.2a4.8 5.5 0 1 0 .1 0zM1414.4 1861.6a4.8 5.5 0 1 0 .1 0zM1417.4 1871.3a4.8 5.5 0 1 0 .1 0zM1435.2 1870a4.8 5.5 0 1 0 .1 0zM1507.7 1870.5a4.8 5.5 0 1 0 .1 0zM1511.5 1867a4.8 5.5 0 1 0 .1 0zM1553.4 1872.1a4.8 5.5 0 1 0 .1 0zM1316.3 1882.2a4.8 5.5 0 1 0 .1 0zM1378.5 1879.4a4.8 5.5 0 1 0 .1 0zM1392 1888.6a4.8 5.5 0 1 0 .1 0zM1407.3 1890.9a4.8 5.5 0 1 0 .1 0zM1437.3 1892.4a4.8 5.5 0 1 0 .1 0zM1525.5 1891.6a4.8 5.5 0 1 0 .1 0zM1566.1 1893.7a4.8 5.5 0 1 0 .1 0zM1353.4 1907.7a4.8 5.5 0 1 0 .1 0zM1405.5 1907.7a4.8 5.5 0 1 0 .1 0zM1566.1 1902.6a4.8 5.5 0 1 0 .1 0zM1573.8 1907.7a4.8 5.5 0 1 0 .1 0zM1419.5 1917.8a4.8 5.5 0 1 0 .1 0zM1409.8 1925.5a4.8 5.5 0 1 0 .1 0zM1451.2 1924.7a4.8 5.5 0 1 0 .1 0zM1470.8 1916.6a4.8 5.5 0 1 0 .1 0zM1496.2 1915.8a4.8 5.5 0 1 0 .1 0zM1508.2 1923.9a4.8 5.5 0 1 0 .1 0zM1691.1 1490.8a4.8 5.5 0 1 0 .1 0zM1715.3 1492.9a4.8 5.5 0 1 0 .1 0zM1700.1 1520.1a4.8 5.5 0 1 0 .1 0zM1714.7 1512.6a4.8 5.5 0 1 0 .1 0zM2009.2 1304.7a4.8 5.5 0 1 0 .1 0zM2015.8 1215.5a4.8 5.5 0 1 0 .1 0zM1900.4 1452.2a4.8 5.5 0 1 0 .1 0zM2007.4 1232.9a4.8 5.5 0 1 0 .1 0zM1760.7 1455.9a4.8 5.5 0 1 0 .1 0zM2000.3 1252.8a4.8 5.5 0 1 0 .1 0zM1909.5 1327.1a4.8 5.5 0 1 0 .1 0zM1985 1270.9a4.8 5.5 0 1 0 .1 0zM1724 1475.2a4.8 5.5 0 1 0 .1 0zM1970.1 1224.6a4.8 5.5 0 1 0 .1 0zM1891.4 1377.4a4.8 5.5 0 1 0 .1 0zM2032.5 1242.2a4.8 5.5 0 1 0 .1 0zM1887.8 1383.2a4.8 5.5 0 1 0 .1 0zM1979.2 1264a4.8 5.5 0 1 0 .1 0zM1967.3 1347.4a4.8 5.5 0 1 0 .1 0zM1870.8 1350.1a4.8 5.5 0 1 0 .1 0zM1917 1289.3a4.8 5.5 0 1 0 .1 0zM1965.4 1278a4.8 5.5 0 1 0 .1 0zM1961.6 1231a4.8 5.5 0 1 0 .1 0zM1924.1 1358.5a4.8 5.5 0 1 0 .1 0zM1923.4 1467.9a4.8 5.5 0 1 0 .1 0zM1979.8 1394.6a4.8 5.5 0 1 0 .1 0zM1886.5 1437.3a4.8 5.5 0 1 0 .1 0zM2013.9 1284.4a4.8 5.5 0 1 0 .1 0zM1918.2 1363.9a4.8 5.5 0 1 0 .1 0zM1905.5 1347.8a4.8 5.5 0 1 0 .1 0zM1837.9 1351.8a4.8 5.5 0 1 0 .1 0zM1921.8 1349a4.8 5.5 0 1 0 .1 0zM1999.5 1224.2a4.8 5.5 0 1 0 .1 0zM1876.2 1488.4a4.8 5.5 0 1 0 .1 0zM1859.7 1424.3a4.8 5.5 0 1 0 .1 0zM1887.5 1416.3a4.8 5.5 0 1 0 .1 0zM1965.4 1390.2a4.8 5.5 0 1 0 .1 0zM1911.1 1515.8a4.8 5.5 0 1 0 .1 0zM1886.6 1511.4a4.8 5.5 0 1 0 .1 0zM1953.8 1388.2a4.8 5.5 0 1 0 .1 0zM1998.5 1236.3a4.8 5.5 0 1 0 .1 0zM1942.3 1259.1a4.8 5.5 0 1 0 .1 0zM1980.4 1332.6a4.8 5.5 0 1 0 .1 0zM1938.1 1288a4.8 5.5 0 1 0 .1 0zM2005.6 1342.5a4.8 5.5 0 1 0 .1 0zM1824.4 1515.4a4.8 5.5 0 1 0 .1 0zM1974.7 1245.4a4.8 5.5 0 1 0 .1 0zM1968.4 1270.6a4.8 5.5 0 1 0 .1 0zM1940.2 1316.4a4.8 5.5 0 1 0 .1 0zM1850.4 1396.4a4.8 5.5 0 1 0 .1 0zM1839.6 1449.8a4.8 5.5 0 1 0 .1 0zM1953 1350.2a4.8 5.5 0 1 0 .1 0zM1838 1449.1a4.8 5.5 0 1 0 .1 0zM1882.6 1446.1a4.8 5.5 0 1 0 .1 0zM1951.3 1352.3a4.8 5.5 0 1 0 .1 0zM1929.8 1341a4.8 5.5 0 1 0 .1 0zM1871.2 1454.7a4.8 5.5 0 1 0 .1 0zM1790.8 1616.8a4.8 5.5 0 1 0 .1 0zM1844.7 1537.3a4.8 5.5 0 1 0 .1 0zM1999.1 1322.8a4.8 5.5 0 1 0 .1 0zM1866.6 1519.7a4.8 5.5 0 1 0 .1 0zM1996.1 1317.3a4.8 5.5 0 1 0 .1 0zM1935.9 1301.6a4.8 5.5 0 1 0 .1 0zM1930 1373.2a4.8 5.5 0 1 0 .1 0zM1948.9 1446.1a4.8 5.5 0 1 0 .1 0zM1793.1 1398.1a4.8 5.5 0 1 0 .1 0zM1945.4 1305.6a4.8 5.5 0 1 0 .1 0zM2014.9 1274.5a4.8 5.5 0 1 0 .1 0zM2025.8 1240.5a4.8 5.5 0 1 0 .1 0zM1830.5 1375.5a4.8 5.5 0 1 0 .1 0zM2008.9 1265.5a4.8 5.5 0 1 0 .1 0zM1889.7 1378.4a4.8 5.5 0 1 0 .1 0zM1791.1 1440a4.8 5.5 0 1 0 .1 0zM1977.1 1382a4.8 5.5 0 1 0 .1 0zM1797.6 1577.8a4.8 5.5 0 1 0 .1 0zM1925.4 1397a4.8 5.5 0 1 0 .1 0zM1948.5 1271.1a4.8 5.5 0 1 0 .1 0zM1840.6 1550.9a4.8 5.5 0 1 0 .1 0zM1810.3 1515a4.8 5.5 0 1 0 .1 0zM2017.6 1279.3a4.8 5.5 0 1 0 .1 0zM1979.4 1294.5a4.8 5.5 0 1 0 .1 0zM1969.4 1313.6a4.8 5.5 0 1 0 .1 0zM2013.6 1228.6a4.8 5.5 0 1 0 .1 0zM1907.3 1411.7a4.8 5.5 0 1 0 .1 0zM2026.6 1250.8a4.8 5.5 0 1 0 .1 0zM1843.8 1538.8a4.8 5.5 0 1 0 .1 0zM1896.8 1386.5a4.8 5.5 0 1 0 .1 0zM1983.6 1214.9a4.8 5.5 0 1 0 .1 0zM1846.3 1482a4.8 5.5 0 1 0 .1 0zM1774.1 1523.3a4.8 5.5 0 1 0 .1 0zM2002.3 1316.7a4.8 5.5 0 1 0 .1 0zM1838.7 1520.7a4.8 5.5 0 1 0 .1 0zM1940.8 1375.3a4.8 5.5 0 1 0 .1 0zM1975.9 1346.4a4.8 5.5 0 1 0 .1 0zM1970.6 1397.2a4.8 5.5 0 1 0 .1 0zM1933.4 1459.9a4.8 5.5 0 1 0 .1 0zM1944.3 1362.2a4.8 5.5 0 1 0 .1 0zM1951.8 1333a4.8 5.5 0 1 0 .1 0zM2001 1336.9a4.8 5.5 0 1 0 .1 0zM1912.8 1335.4a4.8 5.5 0 1 0 .1 0zM2001.4 1290a4.8 5.5 0 1 0 .1 0zM1960.5 1312a4.8 5.5 0 1 0 .1 0zM1980.5 1363.5a4.8 5.5 0 1 0 .1 0zM1779.6 1508.9a4.8 5.5 0 1 0 .1 0zM1909.6 1362.2a4.8 5.5 0 1 0 .1 0zM1923 1309.3a4.8 5.5 0 1 0 .1 0zM1983.7 1348.9a4.8 5.5 0 1 0 .1 0zM1770.1 1505.5a4.8 5.5 0 1 0 .1 0zM1951.1 1379.3a4.8 5.5 0 1 0 .1 0zM2022.6 1311.4a4.8 5.5 0 1 0 .1 0zM1890.9 1379.6a4.8 5.5 0 1 0 .1 0zM2016.3 1272.7a4.8 5.5 0 1 0 .1 0zM2008 1276.1a4.8 5.5 0 1 0 .1 0zM1938.8 1426.9a4.8 5.5 0 1 0 .1 0zM1986 1304.9a4.8 5.5 0 1 0 .1 0zM1974.4 1309.3a4.8 5.5 0 1 0 .1 0zM1868.5 1306.6a4.8 5.5 0 1 0 .1 0zM1935.7 1381.8a4.8 5.5 0 1 0 .1 0zM1964.3 1301.2a4.8 5.5 0 1 0 .1 0zM2003 1256.6a4.8 5.5 0 1 0 .1 0zM1961.5 1312.9a4.8 5.5 0 1 0 .1 0zM1999.7 1273.1a4.8 5.5 0 1 0 .1 0zM1852.8 1479.4a4.8 5.5 0 1 0 .1 0zM1855.1 1475.2a4.8 5.5 0 1 0 .1 0zM1922.1 1500.3a4.8 5.5 0 1 0 .1 0zM2022.8 1251.3a4.8 5.5 0 1 0 .1 0zM1949.6 1335.4a4.8 5.5 0 1 0 .1 0zM1962 1327.7a4.8 5.5 0 1 0 .1 0zM1829.1 1491.9a4.8 5.5 0 1 0 .1 0zM1815.4 1377.6a4.8 5.5 0 1 0 .1 0zM1951.1 1282.2a4.8 5.5 0 1 0 .1 0zM2009.9 1251.2a4.8 5.5 0 1 0 .1 0zM1897.9 1442.7a4.8 5.5 0 1 0 .1 0zM1965.9 1251.5a4.8 5.5 0 1 0 .1 0zM1994.9 1257.4a4.8 5.5 0 1 0 .1 0zM1896.4 1316.4a4.8 5.5 0 1 0 .1 0zM1912.1 1271.1a4.8 5.5 0 1 0 .1 0zM1755.8 1490.4a4.8 5.5 0 1 0 .1 0zM1984.6 1289a4.8 5.5 0 1 0 .1 0zM1866.5 1492.2a4.8 5.5 0 1 0 .1 0zM2016.9 1289.6a4.8 5.5 0 1 0 .1 0zM1915.3 1469.2a4.8 5.5 0 1 0 .1 0zM2006 1277.8a4.8 5.5 0 1 0 .1 0zM1982.2 1339.7a4.8 5.5 0 1 0 .1 0zM1826.2 1382.6a4.8 5.5 0 1 0 .1 0zM1984.9 1209a4.8 5.5 0 1 0 .1 0zM1947.3 1355.4a4.8 5.5 0 1 0 .1 0zM1968.1 1274.3a4.8 5.5 0 1 0 .1 0zM1791.8 1520.9a4.8 5.5 0 1 0 .1 0zM2016.6 1237.6a4.8 5.5 0 1 0 .1 0zM1890.7 1391.8a4.8 5.5 0 1 0 .1 0zM2025 1264.3a4.8 5.5 0 1 0 .1 0zM2007.9 1239a4.8 5.5 0 1 0 .1 0zM2008.1 1302.9a4.8 5.5 0 1 0 .1 0zM2007.7 1275a4.8 5.5 0 1 0 .1 0zM1958.1 1392.6a4.8 5.5 0 1 0 .1 0zM1938.2 1237.3a4.8 5.5 0 1 0 .1 0zM1920.8 1292.1a4.8 5.5 0 1 0 .1 0zM1957.6 1234.5a4.8 5.5 0 1 0 .1 0zM1927.7 1399a4.8 5.5 0 1 0 .1 0zM1962.1 1316.5a4.8 5.5 0 1 0 .1 0zM1870.6 1297.8a4.8 5.5 0 1 0 .1 0zM1987.5 1285.5a4.8 5.5 0 1 0 .1 0zM1924.5 1351.2a4.8 5.5 0 1 0 .1 0zM1878.5 1320.6a4.8 5.5 0 1 0 .1 0zM1950.8 1325.7a4.8 5.5 0 1 0 .1 0zM1935.5 1276.4a4.8 5.5 0 1 0 .1 0zM1767.2 1467.5a4.8 5.5 0 1 0 .1 0zM1960.8 1416.1a4.8 5.5 0 1 0 .1 0zM1912.9 1390.7a4.8 5.5 0 1 0 .1 0zM1784 1530.2a4.8 5.5 0 1 0 .1 0zM1960.9 1403.1a4.8 5.5 0 1 0 .1 0zM1944 1385.5a4.8 5.5 0 1 0 .1 0zM1961.5 1397a4.8 5.5 0 1 0 .1 0zM1983.6 1275.5a4.8 5.5 0 1 0 .1 0zM1834.3 1599.5a4.8 5.5 0 1 0 .1 0zM1911.1 1402.7a4.8 5.5 0 1 0 .1 0zM1976.2 1242a4.8 5.5 0 1 0 .1 0zM1906.8 1460.1a4.8 5.5 0 1 0 .1 0zM1988.7 1243.9a4.8 5.5 0 1 0 .1 0zM2007.2 1274.4a4.8 5.5 0 1 0 .1 0zM1861.5 1351.6a4.8 5.5 0 1 0 .1 0zM2012 1295.6a4.8 5.5 0 1 0 .1 0zM2016.3 1242.3a4.8 5.5 0 1 0 .1 0zM1899.1 1398.8a4.8 5.5 0 1 0 .1 0zM1913.3 1297.7a4.8 5.5 0 1 0 .1 0zM1995.7 1218.3a4.8 5.5 0 1 0 .1 0zM1909.6 1399.5a4.8 5.5 0 1 0 .1 0zM1950.4 1281.9a4.8 5.5 0 1 0 .1 0zM2003.9 1258.8a4.8 5.5 0 1 0 .1 0zM1937.8 1271.3a4.8 5.5 0 1 0 .1 0zM1985.9 1372.6a4.8 5.5 0 1 0 .1 0zM2032.5 1256.8a4.8 5.5 0 1 0 .1 0zM1807.9 1615.8a4.8 5.5 0 1 0 .1 0zM2012.2 1257.4a4.8 5.5 0 1 0 .1 0zM1863.1 1351.5a4.8 5.5 0 1 0 .1 0zM1927 1465.6a4.8 5.5 0 1 0 .1 0zM2002.5 1309.6a4.8 5.5 0 1 0 .1 0zM1965.6 1366.2a4.8 5.5 0 1 0 .1 0zM1946 1387.9a4.8 5.5 0 1 0 .1 0zM1986.5 1302.4a4.8 5.5 0 1 0 .1 0zM1809.4 1509.7a4.8 5.5 0 1 0 .1 0zM2020.1 1264a4.8 5.5 0 1 0 .1 0zM1988.2 1348.4a4.8 5.5 0 1 0 .1 0zM1928.7 1309.2a4.8 5.5 0 1 0 .1 0zM1941.3 1246.8a4.8 5.5 0 1 0 .1 0zM1936.9 1363.1a4.8 5.5 0 1 0 .1 0zM1891.4 1508a4.8 5.5 0 1 0 .1 0zM1910.3 1399.6a4.8 5.5 0 1 0 .1 0zM1908.9 1400.3a4.8 5.5 0 1 0 .1 0zM1896.1 1289.7a4.8 5.5 0 1 0 .1 0zM1813.2 1584.5a4.8 5.5 0 1 0 .1 0zM1938.2 1416.7a4.8 5.5 0 1 0 .1 0zM1859.2 1311.4a4.8 5.5 0 1 0 .1 0zM1872.7 1437.3a4.8 5.5 0 1 0 .1 0zM1928 1473.1a4.8 5.5 0 1 0 .1 0zM1913 1418.3a4.8 5.5 0 1 0 .1 0zM1914.9 1354.9a4.8 5.5 0 1 0 .1 0zM1960.2 1214.7a4.8 5.5 0 1 0 .1 0zM1924.7 1324.7a4.8 5.5 0 1 0 .1 0zM1971.9 1324.8a4.8 5.5 0 1 0 .1 0zM1957.3 1362.4a4.8 5.5 0 1 0 .1 0zM1926.5 1255.9a4.8 5.5 0 1 0 .1 0zM2011.2 1230.7a4.8 5.5 0 1 0 .1 0zM1870.1 1460.7a4.8 5.5 0 1 0 .1 0zM1961.1 1317.8a4.8 5.5 0 1 0 .1 0zM1917.6 1371.2a4.8 5.5 0 1 0 .1 0zM1805.1 1400.6a4.8 5.5 0 1 0 .1 0zM1960.4 1408.5a4.8 5.5 0 1 0 .1 0zM1853.7 1323.1a4.8 5.5 0 1 0 .1 0zM2004.7 1322.8a4.8 5.5 0 1 0 .1 0zM1883.7 1435.4a4.8 5.5 0 1 0 .1 0zM2017.2 1256.5a4.8 5.5 0 1 0 .1 0zM1853.2 1321.8a4.8 5.5 0 1 0 .1 0zM1915.2 1449.9a4.8 5.5 0 1 0 .1 0zM1931.1 1339.8a4.8 5.5 0 1 0 .1 0zM1826.5 1452.9a4.8 5.5 0 1 0 .1 0zM1875.1 1453.8a4.8 5.5 0 1 0 .1 0zM1901.7 1382.9a4.8 5.5 0 1 0 .1 0zM2013.6 1283.5a4.8 5.5 0 1 0 .1 0zM1982.5 1343.7a4.8 5.5 0 1 0 .1 0zM1991.5 1336.1a4.8 5.5 0 1 0 .1 0zM1933.8 1386.3a4.8 5.5 0 1 0 .1 0zM2012.4 1235.4a4.8 5.5 0 1 0 .1 0zM1854.8 1547a4.8 5.5 0 1 0 .1 0zM2017.9 1250.1a4.8 5.5 0 1 0 .1 0zM1874.9 1381a4.8 5.5 0 1 0 .1 0zM1864.6 1440.2a4.8 5.5 0 1 0 .1 0zM2011.8 1225.7a4.8 5.5 0 1 0 .1 0zM1967.8 1332.8a4.8 5.5 0 1 0 .1 0zM1770.2 1572.2a4.8 5.5 0 1 0 .1 0zM1729.3 1506.6a4.8 5.5 0 1 0 .1 0zM1940.1 1291.2a4.8 5.5 0 1 0 .1 0zM1911.7 1300.7a4.8 5.5 0 1 0 .1 0zM1951.3 1374.7a4.8 5.5 0 1 0 .1 0zM1926 1462.7a4.8 5.5 0 1 0 .1 0zM1901.1 1336.4a4.8 5.5 0 1 0 .1 0zM1830.3 1472.9a4.8 5.5 0 1 0 .1 0zM1938.7 1331.8a4.8 5.5 0 1 0 .1 0zM1968 1289.6a4.8 5.5 0 1 0 .1 0zM1924.5 1378.4a4.8 5.5 0 1 0 .1 0zM1842 1501.5a4.8 5.5 0 1 0 .1 0zM1976.1 1296.3a4.8 5.5 0 1 0 .1 0zM1989.2 1234.1a4.8 5.5 0 1 0 .1 0zM1829.1 1401.1a4.8 5.5 0 1 0 .1 0zM1933.7 1358.7a4.8 5.5 0 1 0 .1 0zM2003.8 1261.3a4.8 5.5 0 1 0 .1 0zM1918 1407.7a4.8 5.5 0 1 0 .1 0zM1991.5 1217.5a4.8 5.5 0 1 0 .1 0zM1940.1 1289.8a4.8 5.5 0 1 0 .1 0zM1942.9 1378.7a4.8 5.5 0 1 0 .1 0zM2013.5 1206.6a4.8 5.5 0 1 0 .1 0zM2026.7 1245.1a4.8 5.5 0 1 0 .1 0zM1934.8 1380.4a4.8 5.5 0 1 0 .1 0zM1825.8 1564.8a4.8 5.5 0 1 0 .1 0zM1800.7 1522.9a4.8 5.5 0 1 0 .1 0zM1942.1 1401.7a4.8 5.5 0 1 0 .1 0zM1903.1 1398.4a4.8 5.5 0 1 0 .1 0zM2014.6 1265.9a4.8 5.5 0 1 0 .1 0zM2018.1 1289.6a4.8 5.5 0 1 0 .1 0zM1979.4 1374a4.8 5.5 0 1 0 .1 0zM1799.3 1441.5a4.8 5.5 0 1 0 .1 0zM1914.8 1499.4a4.8 5.5 0 1 0 .1 0zM1947.9 1358.8a4.8 5.5 0 1 0 .1 0zM1918.2 1357.3a4.8 5.5 0 1 0 .1 0zM1967.7 1341a4.8 5.5 0 1 0 .1 0zM2010 1297.1a4.8 5.5 0 1 0 .1 0zM1992 1233.8a4.8 5.5 0 1 0 .1 0zM1894.7 1466a4.8 5.5 0 1 0 .1 0zM1921.5 1340.9a4.8 5.5 0 1 0 .1 0zM1893.8 1393.4a4.8 5.5 0 1 0 .1 0zM2009.3 1303.5a4.8 5.5 0 1 0 .1 0zM1862.1 1316.8a4.8 5.5 0 1 0 .1 0zM1951.9 1275.8a4.8 5.5 0 1 0 .1 0zM1941.5 1236.5a4.8 5.5 0 1 0 .1 0zM2009.6 1246.5a4.8 5.5 0 1 0 .1 0zM1944.6 1236.4a4.8 5.5 0 1 0 .1 0zM2013.3 1248.3a4.8 5.5 0 1 0 .1 0zM1965.2 1358.4a4.8 5.5 0 1 0 .1 0zM1874.5 1470.2a4.8 5.5 0 1 0 .1 0zM1977.2 1214.7a4.8 5.5 0 1 0 .1 0zM2014.9 1313.7a4.8 5.5 0 1 0 .1 0zM1843.5 1374.8a4.8 5.5 0 1 0 .1 0zM1913.4 1366.1a4.8 5.5 0 1 0 .1 0zM1876.5 1445.1a4.8 5.5 0 1 0 .1 0zM1955.7 1357.6a4.8 5.5 0 1 0 .1 0zM1828.1 1443.9a4.8 5.5 0 1 0 .1 0zM1774.8 1576.1a4.8 5.5 0 1 0 .1 0zM1948.1 1340.7a4.8 5.5 0 1 0 .1 0zM1950 1276.2a4.8 5.5 0 1 0 .1 0zM1955.9 1266.5a4.8 5.5 0 1 0 .1 0zM1784 1475.1a4.8 5.5 0 1 0 .1 0zM2031 1274.7a4.8 5.5 0 1 0 .1 0zM2019.7 1228.9a4.8 5.5 0 1 0 .1 0zM1887.4 1491.6a4.8 5.5 0 1 0 .1 0zM2010 1254.9a4.8 5.5 0 1 0 .1 0zM1965.4 1416.4a4.8 5.5 0 1 0 .1 0zM2017.9 1235.4a4.8 5.5 0 1 0 .1 0zM1922.7 1455.2a4.8 5.5 0 1 0 .1 0zM1908.4 1343.1a4.8 5.5 0 1 0 .1 0zM1897 1459a4.8 5.5 0 1 0 .1 0zM1848.1 1340.6a4.8 5.5 0 1 0 .1 0zM1921.9 1391.4a4.8 5.5 0 1 0 .1 0zM1824.7 1360.6a4.8 5.5 0 1 0 .1 0zM1852.3 1480.2a4.8 5.5 0 1 0 .1 0zM1890.7 1350.3a4.8 5.5 0 1 0 .1 0zM1984.9 1286.3a4.8 5.5 0 1 0 .1 0zM2017.1 1302.5a4.8 5.5 0 1 0 .1 0zM1936.3 1401.6a4.8 5.5 0 1 0 .1 0zM1879.5 1417.7a4.8 5.5 0 1 0 .1 0zM2021.3 1227.5a4.8 5.5 0 1 0 .1 0zM1878.2 1435.9a4.8 5.5 0 1 0 .1 0zM1874.9 1430a4.8 5.5 0 1 0 .1 0zM1972.9 1376.8a4.8 5.5 0 1 0 .1 0zM1978.1 1206.8a4.8 5.5 0 1 0 .1 0zM1981.4 1267a4.8 5.5 0 1 0 .1 0zM1920.9 1492.2a4.8 5.5 0 1 0 .1 0zM1984.2 1269.9a4.8 5.5 0 1 0 .1 0zM1865.9 1397.4a4.8 5.5 0 1 0 .1 0zM1827.9 1486.7a4.8 5.5 0 1 0 .1 0zM1981.6 1375.1a4.8 5.5 0 1 0 .1 0zM1981.5 1241.9a4.8 5.5 0 1 0 .1 0zM1768.7 1475a4.8 5.5 0 1 0 .1 0zM1982.1 1294.4a4.8 5.5 0 1 0 .1 0zM2003.3 1218.9a4.8 5.5 0 1 0 .1 0zM2012.9 1291.4a4.8 5.5 0 1 0 .1 0zM1941 1373.7a4.8 5.5 0 1 0 .1 0zM1978.7 1231.1a4.8 5.5 0 1 0 .1 0zM1962.7 1293.5a4.8 5.5 0 1 0 .1 0zM1997.9 1234a4.8 5.5 0 1 0 .1 0zM1848.4 1384.3a4.8 5.5 0 1 0 .1 0zM1835.6 1368.3a4.8 5.5 0 1 0 .1 0zM2000.8 1204.9a4.8 5.5 0 1 0 .1 0zM1875.9 1470.1a4.8 5.5 0 1 0 .1 0zM1891.8 1369.6a4.8 5.5 0 1 0 .1 0zM1890.2 1303.5a4.8 5.5 0 1 0 .1 0zM1818.1 1382.8a4.8 5.5 0 1 0 .1 0zM1877.7 1278.3a4.8 5.5 0 1 0 .1 0zM1881.2 1462.1a4.8 5.5 0 1 0 .1 0zM1985.3 1320.9a4.8 5.5 0 1 0 .1 0zM1995.3 1270.4a4.8 5.5 0 1 0 .1 0zM1870.1 1514.2a4.8 5.5 0 1 0 .1 0zM1970.1 1281.6a4.8 5.5 0 1 0 .1 0zM1898.4 1482.4a4.8 5.5 0 1 0 .1 0zM1970.1 1286.5a4.8 5.5 0 1 0 .1 0zM2004.3 1281.1a4.8 5.5 0 1 0 .1 0zM1979 1253.7a4.8 5.5 0 1 0 .1 0zM1994.8 1335.9a4.8 5.5 0 1 0 .1 0zM1984.5 1288.9a4.8 5.5 0 1 0 .1 0zM1849.9 1416.9a4.8 5.5 0 1 0 .1 0zM2015.1 1243.3a4.8 5.5 0 1 0 .1 0zM1787.8 1622.1a4.8 5.5 0 1 0 .1 0zM2019 1322.4a4.8 5.5 0 1 0 .1 0zM1921.5 1388.2a4.8 5.5 0 1 0 .1 0zM1943.3 1292.8a4.8 5.5 0 1 0 .1 0zM1947 1331.3a4.8 5.5 0 1 0 .1 0zM1990.8 1227.3a4.8 5.5 0 1 0 .1 0zM1974.7 1329a4.8 5.5 0 1 0 .1 0zM1961.4 1361.9a4.8 5.5 0 1 0 .1 0zM2007.1 1222.5a4.8 5.5 0 1 0 .1 0zM1977.2 1294.7a4.8 5.5 0 1 0 .1 0zM1994.3 1263.9a4.8 5.5 0 1 0 .1 0zM1898.7 1277.2a4.8 5.5 0 1 0 .1 0zM1968.9 1344.6a4.8 5.5 0 1 0 .1 0zM1967.9 1288.1a4.8 5.5 0 1 0 .1 0zM1929.8 1476.3a4.8 5.5 0 1 0 .1 0zM1913.6 1315a4.8 5.5 0 1 0 .1 0zM2022 1288.8a4.8 5.5 0 1 0 .1 0zM1996.8 1296.4a4.8 5.5 0 1 0 .1 0zM1931.2 1446.3a4.8 5.5 0 1 0 .1 0zM1918.2 1370.8a4.8 5.5 0 1 0 .1 0zM1790.6 1537.9a4.8 5.5 0 1 0 .1 0zM1981.8 1247.1a4.8 5.5 0 1 0 .1 0zM1992.3 1359.4a4.8 5.5 0 1 0 .1 0zM1909.4 1346.9a4.8 5.5 0 1 0 .1 0zM1814.8 1616.4a4.8 5.5 0 1 0 .1 0zM1993.2 1197.7a4.8 5.5 0 1 0 .1 0zM1937.5 1393.5a4.8 5.5 0 1 0 .1 0zM2028.2 1251.2a4.8 5.5 0 1 0 .1 0zM2029.8 1230.8a4.8 5.5 0 1 0 .1 0zM1927.3 1364.6a4.8 5.5 0 1 0 .1 0zM1876.8 1414.6a4.8 5.5 0 1 0 .1 0zM1915.3 1435.4a4.8 5.5 0 1 0 .1 0zM1913.5 1257.8a4.8 5.5 0 1 0 .1 0zM1917.3 1494.7a4.8 5.5 0 1 0 .1 0zM1936.3 1292.4a4.8 5.5 0 1 0 .1 0zM1948.5 1410.8a4.8 5.5 0 1 0 .1 0zM1965.8 1412.8a4.8 5.5 0 1 0 .1 0zM1759 1490.5a4.8 5.5 0 1 0 .1 0zM1909.5 1258.6a4.8 5.5 0 1 0 .1 0zM1802.3 1500.9a4.8 5.5 0 1 0 .1 0zM1900.4 1438.3a4.8 5.5 0 1 0 .1 0zM1965.4 1255.3a4.8 5.5 0 1 0 .1 0zM1915.6 1439.4a4.8 5.5 0 1 0 .1 0zM1916.4 1373a4.8 5.5 0 1 0 .1 0zM1815.9 1594.6a4.8 5.5 0 1 0 .1 0zM1770.9 1653.5a4.8 5.5 0 1 0 .1 0zM1964.7 1220.2a4.8 5.5 0 1 0 .1 0zM1939.9 1343.3a4.8 5.5 0 1 0 .1 0zM1904.2 1491.8a4.8 5.5 0 1 0 .1 0zM1821.7 1549.9a4.8 5.5 0 1 0 .1 0zM1914 1427.1a4.8 5.5 0 1 0 .1 0zM1979.1 1305.3a4.8 5.5 0 1 0 .1 0zM1953.1 1416.7a4.8 5.5 0 1 0 .1 0zM1943.4 1379.8a4.8 5.5 0 1 0 .1 0zM1959.1 1434.7a4.8 5.5 0 1 0 .1 0zM1773.6 1425.3a4.8 5.5 0 1 0 .1 0zM1951.4 1279.7a4.8 5.5 0 1 0 .1 0zM1931.4 1242.3a4.8 5.5 0 1 0 .1 0zM1840.7 1492.1a4.8 5.5 0 1 0 .1 0zM1953.4 1307.2a4.8 5.5 0 1 0 .1 0zM1908.5 1338.5a4.8 5.5 0 1 0 .1 0zM1775.7 1638.7a4.8 5.5 0 1 0 .1 0zM1896.6 1457.7a4.8 5.5 0 1 0 .1 0zM1951 1448.1a4.8 5.5 0 1 0 .1 0zM1883 1296.9a4.8 5.5 0 1 0 .1 0zM1940.4 1432.6a4.8 5.5 0 1 0 .1 0zM1911 1425.2a4.8 5.5 0 1 0 .1 0zM1999.5 1229.2a4.8 5.5 0 1 0 .1 0zM1888.1 1416.2a4.8 5.5 0 1 0 .1 0zM1996.5 1280.3a4.8 5.5 0 1 0 .1 0zM1811.1 1430.4a4.8 5.5 0 1 0 .1 0zM1894.2 1316.8a4.8 5.5 0 1 0 .1 0zM1942.7 1436.8a4.8 5.5 0 1 0 .1 0zM1946 1323.9a4.8 5.5 0 1 0 .1 0zM2002.8 1327.9a4.8 5.5 0 1 0 .1 0zM1945.9 1340.7a4.8 5.5 0 1 0 .1 0zM1970.6 1304.2a4.8 5.5 0 1 0 .1 0zM2012.2 1278.8a4.8 5.5 0 1 0 .1 0zM1927.9 1405.9a4.8 5.5 0 1 0 .1 0zM2012.9 1295a4.8 5.5 0 1 0 .1 0zM1922.3 1369.9a4.8 5.5 0 1 0 .1 0zM1915.4 1383.8a4.8 5.5 0 1 0 .1 0zM1921.7 1479.4a4.8 5.5 0 1 0 .1 0zM1810.6 1600a4.8 5.5 0 1 0 .1 0zM1985 1265.6a4.8 5.5 0 1 0 .1 0zM1920.3 1305.8a4.8 5.5 0 1 0 .1 0zM1948.2 1434.4a4.8 5.5 0 1 0 .1 0zM1921.8 1334.8a4.8 5.5 0 1 0 .1 0zM1887.9 1375.3a4.8 5.5 0 1 0 .1 0zM1968 1217a4.8 5.5 0 1 0 .1 0zM1929.5 1278.3a4.8 5.5 0 1 0 .1 0zM1883.9 1467.2a4.8 5.5 0 1 0 .1 0zM2023.8 1274.7a4.8 5.5 0 1 0 .1 0zM1991.8 1266.1a4.8 5.5 0 1 0 .1 0zM1915.9 1335a4.8 5.5 0 1 0 .1 0zM1960.9 1236.2a4.8 5.5 0 1 0 .1 0zM1958.8 1422.3a4.8 5.5 0 1 0 .1 0zM1982.5 1339.7a4.8 5.5 0 1 0 .1 0zM1985.4 1197a4.8 5.5 0 1 0 .1 0zM1937 1262.8a4.8 5.5 0 1 0 .1 0zM1956.8 1332.2a4.8 5.5 0 1 0 .1 0zM1770.6 1569.8a4.8 5.5 0 1 0 .1 0zM1950.4 1247.3a4.8 5.5 0 1 0 .1 0zM2016.9 1243.8a4.8 5.5 0 1 0 .1 0zM1986.8 1343.6a4.8 5.5 0 1 0 .1 0zM1806.1 1474a4.8 5.5 0 1 0 .1 0zM1819.3 1572a4.8 5.5 0 1 0 .1 0zM2019.8 1215.6a4.8 5.5 0 1 0 .1 0zM2012.7 1263.9a4.8 5.5 0 1 0 .1 0zM1937.6 1347.3a4.8 5.5 0 1 0 .1 0zM1948.1 1310.1a4.8 5.5 0 1 0 .1 0zM2013.3 1321a4.8 5.5 0 1 0 .1 0zM1911.5 1420.4a4.8 5.5 0 1 0 .1 0zM2006.8 1229.5a4.8 5.5 0 1 0 .1 0zM1905.9 1447.6a4.8 5.5 0 1 0 .1 0zM1960.5 1290.8a4.8 5.5 0 1 0 .1 0zM1867.2 1424.6a4.8 5.5 0 1 0 .1 0zM1992.2 1257.4a4.8 5.5 0 1 0 .1 0zM2007.4 1326.9a4.8 5.5 0 1 0 .1 0zM1987.1 1266.5a4.8 5.5 0 1 0 .1 0zM1944.2 1244a4.8 5.5 0 1 0 .1 0zM1877.1 1432.2a4.8 5.5 0 1 0 .1 0zM1827.1 1453.8a4.8 5.5 0 1 0 .1 0zM1966.7 1373.1a4.8 5.5 0 1 0 .1 0zM2005.1 1285.6a4.8 5.5 0 1 0 .1 0zM1961.6 1375.2a4.8 5.5 0 1 0 .1 0zM2005.6 1321.5a4.8 5.5 0 1 0 .1 0zM2005.5 1332.7a4.8 5.5 0 1 0 .1 0zM1945.4 1351.4a4.8 5.5 0 1 0 .1 0zM1916.2 1442.9a4.8 5.5 0 1 0 .1 0zM1857.6 1565.5a4.8 5.5 0 1 0 .1 0zM1968.3 1231.1a4.8 5.5 0 1 0 .1 0zM2030.2 1244.3a4.8 5.5 0 1 0 .1 0zM2004.5 1271.1a4.8 5.5 0 1 0 .1 0zM1809.4 1474.8a4.8 5.5 0 1 0 .1 0zM1952.6 1291.2a4.8 5.5 0 1 0 .1 0zM1894.4 1265.7a4.8 5.5 0 1 0 .1 0zM1993.8 1313.6a4.8 5.5 0 1 0 .1 0zM1972.7 1321.8a4.8 5.5 0 1 0 .1 0zM1964.5 1370.9a4.8 5.5 0 1 0 .1 0zM1905.7 1503.1a4.8 5.5 0 1 0 .1 0zM2007.6 1246.5a4.8 5.5 0 1 0 .1 0zM1939.7 1335.1a4.8 5.5 0 1 0 .1 0zM1933.1 1253.8a4.8 5.5 0 1 0 .1 0zM1970.2 1355.2a4.8 5.5 0 1 0 .1 0zM1934.8 1251.4a4.8 5.5 0 1 0 .1 0zM1855.7 1339.5a4.8 5.5 0 1 0 .1 0zM1998.5 1262.4a4.8 5.5 0 1 0 .1 0zM1976.2 1244.1a4.8 5.5 0 1 0 .1 0zM1874.7 1414.7a4.8 5.5 0 1 0 .1 0zM1970.9 1359a4.8 5.5 0 1 0 .1 0zM1990.2 1193.6a4.8 5.5 0 1 0 .1 0zM2001.5 1284.7a4.8 5.5 0 1 0 .1 0zM1881.9 1541.1a4.8 5.5 0 1 0 .1 0zM2016.1 1315.9a4.8 5.5 0 1 0 .1 0zM1983.5 1232.1a4.8 5.5 0 1 0 .1 0zM1874.2 1408.1a4.8 5.5 0 1 0 .1 0zM1988.2 1280.3a4.8 5.5 0 1 0 .1 0zM1879.3 1396.1a4.8 5.5 0 1 0 .1 0zM1948.1 1255.8a4.8 5.5 0 1 0 .1 0zM1871.8 1385.5a4.8 5.5 0 1 0 .1 0zM1992 1286.7a4.8 5.5 0 1 0 .1 0zM1980.1 1385.9a4.8 5.5 0 1 0 .1 0zM1993.9 1254.4a4.8 5.5 0 1 0 .1 0zM1932 1258.5a4.8 5.5 0 1 0 .1 0zM1845.4 1575.1a4.8 5.5 0 1 0 .1 0zM1889.5 1402.5a4.8 5.5 0 1 0 .1 0zM1919.2 1485.3a4.8 5.5 0 1 0 .1 0zM1910.4 1260.7a4.8 5.5 0 1 0 .1 0zM1956 1294.9a4.8 5.5 0 1 0 .1 0zM1966.2 1380.3a4.8 5.5 0 1 0 .1 0zM2024.3 1225.4a4.8 5.5 0 1 0 .1 0zM1819.3 1516.6a4.8 5.5 0 1 0 .1 0zM1769.5 1473.7a4.8 5.5 0 1 0 .1 0zM1963.7 1254.8a4.8 5.5 0 1 0 .1 0zM1903 1423.9a4.8 5.5 0 1 0 .1 0zM1975.9 1350.5a4.8 5.5 0 1 0 .1 0zM1952.2 1304.1a4.8 5.5 0 1 0 .1 0zM2001.2 1227.6a4.8 5.5 0 1 0 .1 0zM1961.2 1413.4a4.8 5.5 0 1 0 .1 0zM1848.8 1455.3a4.8 5.5 0 1 0 .1 0zM1932.7 1474.8a4.8 5.5 0 1 0 .1 0zM2011.1 1255.2a4.8 5.5 0 1 0 .1 0zM1981.5 1235.4a4.8 5.5 0 1 0 .1 0zM1946.7 1419.1a4.8 5.5 0 1 0 .1 0zM1854 1417.1a4.8 5.5 0 1 0 .1 0zM1918.4 1497.4a4.8 5.5 0 1 0 .1 0zM1951.3 1256.1a4.8 5.5 0 1 0 .1 0zM1953 1394a4.8 5.5 0 1 0 .1 0zM1948.2 1384.3a4.8 5.5 0 1 0 .1 0zM1939.3 1342.1a4.8 5.5 0 1 0 .1 0zM1936.6 1268.1a4.8 5.5 0 1 0 .1 0zM1926.6 1318.3a4.8 5.5 0 1 0 .1 0zM2001.8 1218.7a4.8 5.5 0 1 0 .1 0zM2007.6 1268.3a4.8 5.5 0 1 0 .1 0zM1966.1 1359.7a4.8 5.5 0 1 0 .1 0zM1955.2 1306.7a4.8 5.5 0 1 0 .1 0zM2003.1 1311.2a4.8 5.5 0 1 0 .1 0zM1936.1 1234.5a4.8 5.5 0 1 0 .1 0zM1919 1492.3a4.8 5.5 0 1 0 .1 0zM1904.2 1323.5a4.8 5.5 0 1 0 .1 0zM2030.5 1241.1a4.8 5.5 0 1 0 .1 0zM2002.8 1226.8a4.8 5.5 0 1 0 .1 0zM1867.1 1458.3a4.8 5.5 0 1 0 .1 0zM1953 1424.9a4.8 5.5 0 1 0 .1 0zM1915.4 1462a4.8 5.5 0 1 0 .1 0zM2007.5 1307.6a4.8 5.5 0 1 0 .1 0zM1905 1277.9a4.8 5.5 0 1 0 .1 0zM1838.2 1450.3a4.8 5.5 0 1 0 .1 0zM1962.9 1284.9a4.8 5.5 0 1 0 .1 0zM1945.6 1359.1a4.8 5.5 0 1 0 .1 0zM1891.5 1450.4a4.8 5.5 0 1 0 .1 0zM1877.4 1534a4.8 5.5 0 1 0 .1 0zM1793 1482.1a4.8 5.5 0 1 0 .1 0zM1940.1 1473.9a4.8 5.5 0 1 0 .1 0zM1922 1363a4.8 5.5 0 1 0 .1 0zM1948.3 1374.2a4.8 5.5 0 1 0 .1 0zM1930.5 1407.3a4.8 5.5 0 1 0 .1 0zM1902.3 1304.1a4.8 5.5 0 1 0 .1 0zM1876.1 1385.7a4.8 5.5 0 1 0 .1 0zM1934.4 1420.9a4.8 5.5 0 1 0 .1 0zM1998.3 1348.4a4.8 5.5 0 1 0 .1 0zM1920.2 1436.7a4.8 5.5 0 1 0 .1 0zM1857.2 1328a4.8 5.5 0 1 0 .1 0zM1914.3 1347.4a4.8 5.5 0 1 0 .1 0zM1909.2 1360a4.8 5.5 0 1 0 .1 0zM1970.1 1289.8a4.8 5.5 0 1 0 .1 0zM1953.6 1394.9a4.8 5.5 0 1 0 .1 0zM1939.1 1392.6a4.8 5.5 0 1 0 .1 0zM1938.7 1331a4.8 5.5 0 1 0 .1 0zM1992.7 1327.5a4.8 5.5 0 1 0 .1 0zM1931.9 1349.6a4.8 5.5 0 1 0 .1 0zM1871.7 1424.7a4.8 5.5 0 1 0 .1 0zM1926 1329.8a4.8 5.5 0 1 0 .1 0zM1826.8 1379a4.8 5.5 0 1 0 .1 0zM1950.9 1359.1a4.8 5.5 0 1 0 .1 0zM1967.1 1281.3a4.8 5.5 0 1 0 .1 0zM1994.3 1200.7a4.8 5.5 0 1 0 .1 0zM2003.9 1327.2a4.8 5.5 0 1 0 .1 0zM1960.2 1340.4a4.8 5.5 0 1 0 .1 0zM1910 1277.1a4.8 5.5 0 1 0 .1 0zM1924.9 1254.5a4.8 5.5 0 1 0 .1 0zM1932.1 1344.6a4.8 5.5 0 1 0 .1 0zM1925.3 1401.3a4.8 5.5 0 1 0 .1 0zM1858.7 1384.6a4.8 5.5 0 1 0 .1 0zM1939.3 1365.7a4.8 5.5 0 1 0 .1 0zM1875.3 1288.7a4.8 5.5 0 1 0 .1 0zM1834.5 1548a4.8 5.5 0 1 0 .1 0zM2005.7 1252.3a4.8 5.5 0 1 0 .1 0zM2003.2 1344a4.8 5.5 0 1 0 .1 0zM1944.9 1441.6a4.8 5.5 0 1 0 .1 0zM1954.6 1286.4a4.8 5.5 0 1 0 .1 0zM2013.7 1334.9a4.8 5.5 0 1 0 .1 0zM1889.2 1446.2a4.8 5.5 0 1 0 .1 0zM1910.9 1480.7a4.8 5.5 0 1 0 .1 0zM1882.6 1366.6a4.8 5.5 0 1 0 .1 0zM2014.2 1279.7a4.8 5.5 0 1 0 .1 0zM1828.1 1465.9a4.8 5.5 0 1 0 .1 0zM1957.9 1338.5a4.8 5.5 0 1 0 .1 0zM1996.1 1256.4a4.8 5.5 0 1 0 .1 0zM1817.6 1421.9a4.8 5.5 0 1 0 .1 0zM1834 1516.7a4.8 5.5 0 1 0 .1 0zM1806.9 1370.6a4.8 5.5 0 1 0 .1 0zM1935 1400.4a4.8 5.5 0 1 0 .1 0zM1993.3 1283.7a4.8 5.5 0 1 0 .1 0zM1817.6 1428.1a4.8 5.5 0 1 0 .1 0zM1872.2 1529.8a4.8 5.5 0 1 0 .1 0zM1954.7 1304.7a4.8 5.5 0 1 0 .1 0zM2009 1269a4.8 5.5 0 1 0 .1 0zM1943.5 1399.4a4.8 5.5 0 1 0 .1 0zM1944.3 1395a4.8 5.5 0 1 0 .1 0zM1987.4 1310.7a4.8 5.5 0 1 0 .1 0zM1926.7 1332.4a4.8 5.5 0 1 0 .1 0zM1958.2 1404.5a4.8 5.5 0 1 0 .1 0zM1771.7 1574.2a4.8 5.5 0 1 0 .1 0zM1912.6 1388.9a4.8 5.5 0 1 0 .1 0zM1820.7 1576.8a4.8 5.5 0 1 0 .1 0zM1953.6 1411a4.8 5.5 0 1 0 .1 0zM2006.9 1344.4a4.8 5.5 0 1 0 .1 0zM1954.7 1350a4.8 5.5 0 1 0 .1 0zM2009.2 1257a4.8 5.5 0 1 0 .1 0zM1906.4 1327.5a4.8 5.5 0 1 0 .1 0zM1954.7 1294.2a4.8 5.5 0 1 0 .1 0zM1992.7 1359.3a4.8 5.5 0 1 0 .1 0zM1982.6 1385.4a4.8 5.5 0 1 0 .1 0zM1806.1 1478.7a4.8 5.5 0 1 0 .1 0zM1803.9 1440.3a4.8 5.5 0 1 0 .1 0zM1929.5 1289.3a4.8 5.5 0 1 0 .1 0zM1831.7 1553.4a4.8 5.5 0 1 0 .1 0zM1985.5 1220.1a4.8 5.5 0 1 0 .1 0zM1935.7 1320.1a4.8 5.5 0 1 0 .1 0zM1987 1327.8a4.8 5.5 0 1 0 .1 0zM1981 1243.5a4.8 5.5 0 1 0 .1 0zM2027.2 1263.4a4.8 5.5 0 1 0 .1 0zM1912.9 1417.2a4.8 5.5 0 1 0 .1 0zM1750.4 1519.2a4.8 5.5 0 1 0 .1 0zM1955.5 1342.6a4.8 5.5 0 1 0 .1 0zM1841.2 1446.7a4.8 5.5 0 1 0 .1 0zM1986.7 1362.5a4.8 5.5 0 1 0 .1 0zM1920.5 1341.4a4.8 5.5 0 1 0 .1 0zM1993.5 1198.8a4.8 5.5 0 1 0 .1 0zM1985.5 1252.7a4.8 5.5 0 1 0 .1 0zM1990.2 1369.2a4.8 5.5 0 1 0 .1 0zM1924.6 1475.3a4.8 5.5 0 1 0 .1 0zM1892.7 1315.1a4.8 5.5 0 1 0 .1 0zM1978.5 1340.3a4.8 5.5 0 1 0 .1 0zM1892.9 1444a4.8 5.5 0 1 0 .1 0zM1961.6 1243.1a4.8 5.5 0 1 0 .1 0zM1995.4 1300.5a4.8 5.5 0 1 0 .1 0zM1935.8 1433.2a4.8 5.5 0 1 0 .1 0zM1869.5 1340.9a4.8 5.5 0 1 0 .1 0zM1949.5 1296.6a4.8 5.5 0 1 0 .1 0zM1920.8 1491.8a4.8 5.5 0 1 0 .1 0zM2011.9 1244a4.8 5.5 0 1 0 .1 0zM1905.3 1418.9a4.8 5.5 0 1 0 .1 0zM1948.3 1337a4.8 5.5 0 1 0 .1 0zM1919.6 1352a4.8 5.5 0 1 0 .1 0zM1918.4 1415.6a4.8 5.5 0 1 0 .1 0zM1904.8 1502.5a4.8 5.5 0 1 0 .1 0zM1988.3 1247.8a4.8 5.5 0 1 0 .1 0zM1854.2 1368.1a4.8 5.5 0 1 0 .1 0zM1905.6 1351.8a4.8 5.5 0 1 0 .1 0zM1994.9 1298.4a4.8 5.5 0 1 0 .1 0zM1889.7 1360.4a4.8 5.5 0 1 0 .1 0zM1963.4 1219a4.8 5.5 0 1 0 .1 0zM1955.9 1323.4a4.8 5.5 0 1 0 .1 0zM1954.3 1335.7a4.8 5.5 0 1 0 .1 0zM1747.9 1483.4a4.8 5.5 0 1 0 .1 0zM1902 1398.5a4.8 5.5 0 1 0 .1 0zM1954.5 1375.1a4.8 5.5 0 1 0 .1 0zM1930.9 1307.3a4.8 5.5 0 1 0 .1 0zM1992.5 1249.8a4.8 5.5 0 1 0 .1 0zM2024.9 1274a4.8 5.5 0 1 0 .1 0zM1911.4 1339.1a4.8 5.5 0 1 0 .1 0zM1959.3 1306.2a4.8 5.5 0 1 0 .1 0zM1961.7 1258.5a4.8 5.5 0 1 0 .1 0zM1953.6 1292.5a4.8 5.5 0 1 0 .1 0zM1996.4 1347.6a4.8 5.5 0 1 0 .1 0zM1819.3 1383.5a4.8 5.5 0 1 0 .1 0zM1969.8 1328.9a4.8 5.5 0 1 0 .1 0zM1989.2 1243.6a4.8 5.5 0 1 0 .1 0zM1931.5 1235.3a4.8 5.5 0 1 0 .1 0zM1879.8 1294.5a4.8 5.5 0 1 0 .1 0zM1990.1 1271.7a4.8 5.5 0 1 0 .1 0zM1974.4 1397.3a4.8 5.5 0 1 0 .1 0zM1855.3 1364.6a4.8 5.5 0 1 0 .1 0zM1891 1434.5a4.8 5.5 0 1 0 .1 0zM2023.5 1259.8a4.8 5.5 0 1 0 .1 0zM1948.1 1330.8a4.8 5.5 0 1 0 .1 0zM1837.6 1420.1a4.8 5.5 0 1 0 .1 0zM1972.8 1212.8a4.8 5.5 0 1 0 .1 0zM1966.4 1306.5a4.8 5.5 0 1 0 .1 0zM1991.8 1294.8a4.8 5.5 0 1 0 .1 0zM1831.2 1551.8a4.8 5.5 0 1 0 .1 0zM1783.2 1506.2a4.8 5.5 0 1 0 .1 0zM1977.4 1381.6a4.8 5.5 0 1 0 .1 0zM1805.9 1419.5a4.8 5.5 0 1 0 .1 0zM1802.5 1451a4.8 5.5 0 1 0 .1 0zM1919.7 1436.9a4.8 5.5 0 1 0 .1 0zM1935.4 1271a4.8 5.5 0 1 0 .1 0zM1851.9 1511.5a4.8 5.5 0 1 0 .1 0zM1941.2 1293.1a4.8 5.5 0 1 0 .1 0zM1864.8 1313.8a4.8 5.5 0 1 0 .1 0zM1954.5 1294.4a4.8 5.5 0 1 0 .1 0zM2005.1 1253.4a4.8 5.5 0 1 0 .1 0zM1934.2 1299.5a4.8 5.5 0 1 0 .1 0zM1909 1333.4a4.8 5.5 0 1 0 .1 0zM1983.3 1379.9a4.8 5.5 0 1 0 .1 0zM1906.7 1355.7a4.8 5.5 0 1 0 .1 0zM2007.1 1213.5a4.8 5.5 0 1 0 .1 0zM1921.5 1339.2a4.8 5.5 0 1 0 .1 0zM1973.3 1362.8a4.8 5.5 0 1 0 .1 0zM1909 1290.9a4.8 5.5 0 1 0 .1 0zM1975 1341a4.8 5.5 0 1 0 .1 0zM1921.3 1320.2a4.8 5.5 0 1 0 .1 0zM1831.7 1420.3a4.8 5.5 0 1 0 .1 0zM1822.4 1490.2a4.8 5.5 0 1 0 .1 0zM1911.9 1432.1a4.8 5.5 0 1 0 .1 0zM1818.2 1496.1a4.8 5.5 0 1 0 .1 0zM1974 1342.6a4.8 5.5 0 1 0 .1 0zM1982.3 1388a4.8 5.5 0 1 0 .1 0zM1992.4 1270.6a4.8 5.5 0 1 0 .1 0zM1958.2 1284.9a4.8 5.5 0 1 0 .1 0zM1952.5 1317.6a4.8 5.5 0 1 0 .1 0zM1930.5 1386.4a4.8 5.5 0 1 0 .1 0zM1944.2 1463.6a4.8 5.5 0 1 0 .1 0zM1861.3 1318.7a4.8 5.5 0 1 0 .1 0zM2014.2 1266.1a4.8 5.5 0 1 0 .1 0zM1977.6 1335.2a4.8 5.5 0 1 0 .1 0zM2008.4 1237a4.8 5.5 0 1 0 .1 0zM2004.2 1309.4a4.8 5.5 0 1 0 .1 0zM1927.6 1255a4.8 5.5 0 1 0 .1 0zM1772 1442.1a4.8 5.5 0 1 0 .1 0zM1939.4 1319.5a4.8 5.5 0 1 0 .1 0zM1926.1 1330.6a4.8 5.5 0 1 0 .1 0zM1967 1350.8a4.8 5.5 0 1 0 .1 0zM1924.9 1470.5a4.8 5.5 0 1 0 .1 0zM1921.5 1457.1a4.8 5.5 0 1 0 .1 0zM2013.3 1279.3a4.8 5.5 0 1 0 .1 0zM1885.7 1314.1a4.8 5.5 0 1 0 .1 0zM1974.1 1233a4.8 5.5 0 1 0 .1 0zM1966.8 1370.1a4.8 5.5 0 1 0 .1 0zM1990.7 1254.1a4.8 5.5 0 1 0 .1 0z" fill="none" stroke="#C8242B" stroke-width="5"/>
<rect x="1276" y="1171.9" width="788.2" height="785.5" fill="none" stroke="#111" stroke-width="3.6"/>
<line x1="1300.7" y1="1944.4" x2="1300.7" y2="1957.4" stroke="#111" stroke-width="3"/>
<text x="1300.7" y="2016.3" font-size="53" text-anchor="middle">0</text>
<line x1="1276" y1="1930.6" x2="1290" y2="1930.6" stroke="#111" stroke-width="3"/>
<text x="1253.8" y="1944.9" font-size="53" text-anchor="end">0</text>
<line x1="1450.9" y1="1944.4" x2="1450.9" y2="1957.4" stroke="#111" stroke-width="3"/>
<text x="1450.9" y="2016.3" font-size="53" text-anchor="middle">0.2</text>
<line x1="1276" y1="1782.9" x2="1290" y2="1782.9" stroke="#111" stroke-width="3"/>
<text x="1253.8" y="1797.2" font-size="53" text-anchor="end">0.2</text>
<line x1="1601" y1="1944.4" x2="1601" y2="1957.4" stroke="#111" stroke-width="3"/>
<text x="1601" y="2016.3" font-size="53" text-anchor="middle">0.4</text>
<line x1="1276" y1="1635.1" x2="1290" y2="1635.1" stroke="#111" stroke-width="3"/>
<text x="1253.8" y="1649.4" font-size="53" text-anchor="end">0.4</text>
<line x1="1751.2" y1="1944.4" x2="1751.2" y2="1957.4" stroke="#111" stroke-width="3"/>
<text x="1751.2" y="2016.3" font-size="53" text-anchor="middle">0.6</text>
<line x1="1276" y1="1487.4" x2="1290" y2="1487.4" stroke="#111" stroke-width="3"/>
<text x="1253.8" y="1501.7" font-size="53" text-anchor="end">0.6</text>
<line x1="1901.3" y1="1944.4" x2="1901.3" y2="1957.4" stroke="#111" stroke-width="3"/>
<text x="1901.3" y="2016.3" font-size="53" text-anchor="middle">0.8</text>
<line x1="1276" y1="1339.6" x2="1290" y2="1339.6" stroke="#111" stroke-width="3"/>
<text x="1253.8" y="1353.9" font-size="53" text-anchor="end">0.8</text>
<line x1="2051.5" y1="1944.4" x2="2051.5" y2="1957.4" stroke="#111" stroke-width="3"/>
<text x="2051.5" y="2016.3" font-size="53" text-anchor="middle">1.0</text>
<line x1="1276" y1="1191.9" x2="1290" y2="1191.9" stroke="#111" stroke-width="3"/>
<text x="1253.8" y="1206.2" font-size="53" text-anchor="end">1.0</text>
<text x="1320.8" y="1310.8" font-size="53" textLength="417" lengthAdjust="spacingAndGlyphs"><tspan class="it">r</tspan>=0.93, <tspan class="it">P</tspan>&lt;1E−200</text>
<text x="1323.4" y="2083.6" font-size="54" textLength="690.1" lengthAdjust="spacingAndGlyphs"><tspan class="cj" font-size="56.2">模块身份</tspan> module membership</text>
<text transform="translate(1111.5 1566.5) rotate(-90)" font-size="56" text-anchor="middle" textLength="278" lengthAdjust="spacingAndGlyphs" class="cj">基因显著性</text>
<text transform="translate(1177.7 1563.8) rotate(-90)" font-size="54" text-anchor="middle" textLength="386" lengthAdjust="spacingAndGlyphs">gene significance</text>
<path d="M2701.9 1534.5a4.8 5.5 0 1 0 .1 0zM2727.8 1537a4.8 5.5 0 1 0 .1 0zM2750.2 1535.8a4.8 5.5 0 1 0 .1 0zM2707 1547.2a4.8 5.5 0 1 0 .1 0zM2712 1547.2a4.8 5.5 0 1 0 .1 0zM2708.2 1554.8a4.8 5.5 0 1 0 .1 0zM2740 1550.3a4.8 5.5 0 1 0 .1 0zM2638.8 1555.3a4.8 5.5 0 1 0 .1 0zM2779.4 1556.9a4.8 5.5 0 1 0 .1 0zM2733.7 1562.5a4.8 5.5 0 1 0 .1 0zM2736.2 1566.3a4.8 5.5 0 1 0 .1 0zM2718.4 1570.1a4.8 5.5 0 1 0 .1 0zM2727.3 1575.2a4.8 5.5 0 1 0 .1 0zM2736.2 1580.3a4.8 5.5 0 1 0 .1 0zM2768 1578.2a4.8 5.5 0 1 0 .1 0zM2778.1 1576.4a4.8 5.5 0 1 0 .1 0zM2726 1586.6a4.8 5.5 0 1 0 .1 0zM2717.6 1593.5a4.8 5.5 0 1 0 .1 0zM2569.7 1584.8a4.8 5.5 0 1 0 .1 0zM2670.1 1584.1a4.8 5.5 0 1 0 .1 0zM2693.5 1596.8a4.8 5.5 0 1 0 .1 0zM2743.8 1601.1a4.8 5.5 0 1 0 .1 0zM2780.7 1589.2a4.8 5.5 0 1 0 .1 0zM2780.7 1596.8a4.8 5.5 0 1 0 .1 0zM2577.8 1608.2a4.8 5.5 0 1 0 .1 0zM2598.9 1602.6a4.8 5.5 0 1 0 .1 0zM2603.3 1603.6a4.8 5.5 0 1 0 .1 0zM2663.7 1609.5a4.8 5.5 0 1 0 .1 0zM2670.9 1614.6a4.8 5.5 0 1 0 .1 0zM2687.4 1612.8a4.8 5.5 0 1 0 .1 0zM2710 1608.7a4.8 5.5 0 1 0 .1 0zM2723.5 1620.4a4.8 5.5 0 1 0 .1 0zM2651.8 1619.7a4.8 5.5 0 1 0 .1 0zM2637.8 1626.5a4.8 5.5 0 1 0 .1 0zM2635.3 1638.7a4.8 5.5 0 1 0 .1 0zM2649.8 1636.2a4.8 5.5 0 1 0 .1 0zM2678.2 1635.7a4.8 5.5 0 1 0 .1 0zM2724.8 1640.8a4.8 5.5 0 1 0 .1 0zM2776.9 1632.4a4.8 5.5 0 1 0 .1 0zM2661.7 1648.1a4.8 5.5 0 1 0 .1 0zM2686.6 1659.1a4.8 5.5 0 1 0 .1 0zM2742.5 1650.2a4.8 5.5 0 1 0 .1 0zM2750.2 1641.8a4.8 5.5 0 1 0 .1 0zM2760.3 1650.2a4.8 5.5 0 1 0 .1 0zM2764.2 1655.2a4.8 5.5 0 1 0 .1 0zM2773.1 1659.1a4.8 5.5 0 1 0 .1 0zM2754 1659.1a4.8 5.5 0 1 0 .1 0zM2750.2 1664.1a4.8 5.5 0 1 0 .1 0zM2746.4 1666.7a4.8 5.5 0 1 0 .1 0zM2619.3 1668a4.8 5.5 0 1 0 .1 0zM2657.4 1671.8a4.8 5.5 0 1 0 .1 0zM2707 1666.7a4.8 5.5 0 1 0 .1 0zM2715.1 1660.3a4.8 5.5 0 1 0 .1 0zM2726 1668a4.8 5.5 0 1 0 .1 0zM2711.5 1677.6a4.8 5.5 0 1 0 .1 0zM2759.1 1675.6a4.8 5.5 0 1 0 .1 0zM2769.7 1675.1a4.8 5.5 0 1 0 .1 0zM2783.2 1670.5a4.8 5.5 0 1 0 .1 0zM2613.4 1682.7a4.8 5.5 0 1 0 .1 0zM2676 1686.3a4.8 5.5 0 1 0 .1 0zM2699.3 1690.8a4.8 5.5 0 1 0 .1 0zM2660.4 1700.5a4.8 5.5 0 1 0 .1 0zM2783.2 1694.6a4.8 5.5 0 1 0 .1 0zM2569.2 1701.8a4.8 5.5 0 1 0 .1 0zM2598.2 1704.8a4.8 5.5 0 1 0 .1 0zM2602.7 1700.2a4.8 5.5 0 1 0 .1 0zM2764.2 1706.1a4.8 5.5 0 1 0 .1 0zM2737 1715.5a4.8 5.5 0 1 0 .1 0zM2779.4 1713.7a4.8 5.5 0 1 0 .1 0zM2499 1720.1a4.8 5.5 0 1 0 .1 0zM2477.2 1729a4.8 5.5 0 1 0 .1 0zM2474.4 1743.7a4.8 5.5 0 1 0 .1 0zM2527.8 1736.6a4.8 5.5 0 1 0 .1 0zM2643.9 1718a4.8 5.5 0 1 0 .1 0zM2630.2 1725.7a4.8 5.5 0 1 0 .1 0zM2623.1 1733.3a4.8 5.5 0 1 0 .1 0zM2637.1 1732.8a4.8 5.5 0 1 0 .1 0zM2648 1730.2a4.8 5.5 0 1 0 .1 0zM2682.8 1724.6a4.8 5.5 0 1 0 .1 0zM2696.3 1731.5a4.8 5.5 0 1 0 .1 0zM2696.8 1737.9a4.8 5.5 0 1 0 .1 0zM2738.7 1732.8a4.8 5.5 0 1 0 .1 0zM2739.5 1738.6a4.8 5.5 0 1 0 .1 0zM2719.2 1740.9a4.8 5.5 0 1 0 .1 0zM2602.2 1745a4.8 5.5 0 1 0 .1 0zM2616.2 1744.2a4.8 5.5 0 1 0 .1 0zM2599.7 1759.5a4.8 5.5 0 1 0 .1 0zM2619.3 1758.2a4.8 5.5 0 1 0 .1 0zM2626.9 1764.5a4.8 5.5 0 1 0 .1 0zM2630.7 1769.6a4.8 5.5 0 1 0 .1 0zM2634.5 1770.9a4.8 5.5 0 1 0 .1 0zM2765.4 1749.3a4.8 5.5 0 1 0 .1 0zM2736.2 1756.4a4.8 5.5 0 1 0 .1 0zM2727.3 1759.5a4.8 5.5 0 1 0 .1 0zM2728.6 1769.6a4.8 5.5 0 1 0 .1 0zM2759.8 1761.5a4.8 5.5 0 1 0 .1 0zM2754 1767.9a4.8 5.5 0 1 0 .1 0zM2688.7 1769.1a4.8 5.5 0 1 0 .1 0zM2568.4 1765.8a4.8 5.5 0 1 0 .1 0zM2551.9 1768.9a4.8 5.5 0 1 0 .1 0zM2538.4 1774.7a4.8 5.5 0 1 0 .1 0zM2515.6 1777.3a4.8 5.5 0 1 0 .1 0zM2530.3 1781.1a4.8 5.5 0 1 0 .1 0zM2565.1 1778.5a4.8 5.5 0 1 0 .1 0zM2600.2 1777.3a4.8 5.5 0 1 0 .1 0zM2598.2 1782.3a4.8 5.5 0 1 0 .1 0zM2595.6 1787.4a4.8 5.5 0 1 0 .1 0zM2633.8 1786.2a4.8 5.5 0 1 0 .1 0zM2480.2 1790.7a4.8 5.5 0 1 0 .1 0zM2618 1794.3a4.8 5.5 0 1 0 .1 0zM2584.9 1801.4a4.8 5.5 0 1 0 .1 0zM2590 1800.1a4.8 5.5 0 1 0 .1 0zM2603.3 1801.4a4.8 5.5 0 1 0 .1 0zM2630.7 1802.2a4.8 5.5 0 1 0 .1 0zM2403.2 1814.9a4.8 5.5 0 1 0 .1 0zM2526.5 1813.6a4.8 5.5 0 1 0 .1 0zM2543 1813.6a4.8 5.5 0 1 0 .1 0zM2549.4 1823a4.8 5.5 0 1 0 .1 0zM2553.2 1824.8a4.8 5.5 0 1 0 .1 0zM2544.8 1829.9a4.8 5.5 0 1 0 .1 0zM2512 1823a4.8 5.5 0 1 0 .1 0zM2495.5 1825.6a4.8 5.5 0 1 0 .1 0zM2623.1 1828.9a4.8 5.5 0 1 0 .1 0zM2471.3 1831.4a4.8 5.5 0 1 0 .1 0zM2479.5 1838.3a4.8 5.5 0 1 0 .1 0zM2460.9 1842.1a4.8 5.5 0 1 0 .1 0zM2462.2 1853.5a4.8 5.5 0 1 0 .1 0zM2523.9 1849.2a4.8 5.5 0 1 0 .1 0zM2498 1864.4a4.8 5.5 0 1 0 .1 0zM2534.6 1871.3a4.8 5.5 0 1 0 .1 0zM2537.9 1875.9a4.8 5.5 0 1 0 .1 0zM2557.8 1872.1a4.8 5.5 0 1 0 .1 0zM2320.1 1879.7a4.8 5.5 0 1 0 .1 0zM2425.6 1885.3a4.8 5.5 0 1 0 .1 0zM2441.8 1887.8a4.8 5.5 0 1 0 .1 0zM2450.2 1898a4.8 5.5 0 1 0 .1 0zM2524.5 1887.1a4.8 5.5 0 1 0 .1 0zM2506.7 1895.5a4.8 5.5 0 1 0 .1 0zM2497.3 1898.5a4.8 5.5 0 1 0 .1 0zM2590 1892.2a4.8 5.5 0 1 0 .1 0zM2605.8 1886.6a4.8 5.5 0 1 0 .1 0zM2442.6 1912.7a4.8 5.5 0 1 0 .1 0zM2535.4 1913.8a4.8 5.5 0 1 0 .1 0zM2527.8 1916.3a4.8 5.5 0 1 0 .1 0zM2367.1 1920.9a4.8 5.5 0 1 0 .1 0zM2387.9 1921.4a4.8 5.5 0 1 0 .1 0zM2479 1924.2a4.8 5.5 0 1 0 .1 0zM2730.3 1433.9a4.8 5.5 0 1 0 .1 0zM2734.8 1444.5a4.8 5.5 0 1 0 .1 0zM2707 1498.9a4.8 5.5 0 1 0 .1 0zM2733.3 1497.4a4.8 5.5 0 1 0 .1 0zM2731.8 1505a4.8 5.5 0 1 0 .1 0zM2662.2 1509.5a4.8 5.5 0 1 0 .1 0zM2677.3 1513.2a4.8 5.5 0 1 0 .1 0zM2684.9 1508.9a4.8 5.5 0 1 0 .1 0zM2702.4 1529.2a4.8 5.5 0 1 0 .1 0zM2727.3 1534.4a4.8 5.5 0 1 0 .1 0zM3019 1295.5a4.8 5.5 0 1 0 .1 0zM2979.9 1353.4a4.8 5.5 0 1 0 .1 0zM2948.4 1284.1a4.8 5.5 0 1 0 .1 0zM2991 1277.9a4.8 5.5 0 1 0 .1 0zM3013 1306a4.8 5.5 0 1 0 .1 0zM3018.1 1355.4a4.8 5.5 0 1 0 .1 0zM2906 1418.8a4.8 5.5 0 1 0 .1 0zM3026.1 1270.4a4.8 5.5 0 1 0 .1 0zM2937.2 1298.7a4.8 5.5 0 1 0 .1 0zM2927 1255.9a4.8 5.5 0 1 0 .1 0zM2948.3 1271.3a4.8 5.5 0 1 0 .1 0zM3008.2 1255.9a4.8 5.5 0 1 0 .1 0zM2916.9 1457.9a4.8 5.5 0 1 0 .1 0zM2838.1 1382.1a4.8 5.5 0 1 0 .1 0zM2990.4 1317.5a4.8 5.5 0 1 0 .1 0zM3006.9 1219.2a4.8 5.5 0 1 0 .1 0zM2847.5 1453.9a4.8 5.5 0 1 0 .1 0zM2957.7 1315.2a4.8 5.5 0 1 0 .1 0zM3015.5 1265.4a4.8 5.5 0 1 0 .1 0zM2891.7 1425.9a4.8 5.5 0 1 0 .1 0zM2805.9 1549.9a4.8 5.5 0 1 0 .1 0zM2912.1 1415.8a4.8 5.5 0 1 0 .1 0zM2906.7 1471.4a4.8 5.5 0 1 0 .1 0zM2963 1467.5a4.8 5.5 0 1 0 .1 0zM2936.5 1333.6a4.8 5.5 0 1 0 .1 0zM2929.1 1346.3a4.8 5.5 0 1 0 .1 0zM2927.5 1430.2a4.8 5.5 0 1 0 .1 0zM2770.6 1443.3a4.8 5.5 0 1 0 .1 0zM2969.4 1358a4.8 5.5 0 1 0 .1 0zM2899 1393.9a4.8 5.5 0 1 0 .1 0zM3004.3 1399.8a4.8 5.5 0 1 0 .1 0zM2983.7 1335.5a4.8 5.5 0 1 0 .1 0zM3040.8 1256.3a4.8 5.5 0 1 0 .1 0zM2861.6 1489.9a4.8 5.5 0 1 0 .1 0zM2928.3 1336.8a4.8 5.5 0 1 0 .1 0zM2838.2 1382.5a4.8 5.5 0 1 0 .1 0zM2943.5 1423.6a4.8 5.5 0 1 0 .1 0zM3014.4 1287.6a4.8 5.5 0 1 0 .1 0zM2841.5 1380.3a4.8 5.5 0 1 0 .1 0zM2897.9 1453a4.8 5.5 0 1 0 .1 0zM2895.4 1428.2a4.8 5.5 0 1 0 .1 0zM2849 1544.7a4.8 5.5 0 1 0 .1 0zM2915.7 1348.8a4.8 5.5 0 1 0 .1 0zM3008.7 1293.3a4.8 5.5 0 1 0 .1 0zM2950.1 1441.6a4.8 5.5 0 1 0 .1 0zM2981.3 1429.4a4.8 5.5 0 1 0 .1 0zM3020.3 1258.8a4.8 5.5 0 1 0 .1 0zM2961.4 1276a4.8 5.5 0 1 0 .1 0zM3039.8 1280.3a4.8 5.5 0 1 0 .1 0zM2790.4 1611.1a4.8 5.5 0 1 0 .1 0zM2919 1407.7a4.8 5.5 0 1 0 .1 0zM2829.6 1441.7a4.8 5.5 0 1 0 .1 0zM2981.6 1268a4.8 5.5 0 1 0 .1 0zM3002.2 1289.6a4.8 5.5 0 1 0 .1 0zM2936.3 1455.9a4.8 5.5 0 1 0 .1 0zM2845.1 1625.5a4.8 5.5 0 1 0 .1 0zM2902.4 1426.6a4.8 5.5 0 1 0 .1 0zM2800.8 1459.3a4.8 5.5 0 1 0 .1 0zM2806.9 1454.5a4.8 5.5 0 1 0 .1 0zM3031 1314a4.8 5.5 0 1 0 .1 0zM2801.9 1441.6a4.8 5.5 0 1 0 .1 0zM2959.6 1360.8a4.8 5.5 0 1 0 .1 0zM2958.3 1391.1a4.8 5.5 0 1 0 .1 0zM3018.6 1267.4a4.8 5.5 0 1 0 .1 0zM2880 1463.6a4.8 5.5 0 1 0 .1 0zM2994.6 1375.1a4.8 5.5 0 1 0 .1 0zM3044.8 1272.4a4.8 5.5 0 1 0 .1 0zM3016.3 1331.3a4.8 5.5 0 1 0 .1 0zM2972.9 1441.7a4.8 5.5 0 1 0 .1 0zM2950.5 1484.4a4.8 5.5 0 1 0 .1 0zM2886.1 1530.5a4.8 5.5 0 1 0 .1 0zM2981.1 1344.1a4.8 5.5 0 1 0 .1 0zM2921.1 1358.2a4.8 5.5 0 1 0 .1 0zM2955.6 1366.7a4.8 5.5 0 1 0 .1 0zM2956.2 1484.9a4.8 5.5 0 1 0 .1 0zM3011.1 1297.9a4.8 5.5 0 1 0 .1 0zM2955.2 1281.3a4.8 5.5 0 1 0 .1 0zM3038.7 1280.8a4.8 5.5 0 1 0 .1 0zM2878.3 1353.5a4.8 5.5 0 1 0 .1 0zM3014.1 1248a4.8 5.5 0 1 0 .1 0zM3008.9 1302a4.8 5.5 0 1 0 .1 0zM2967.2 1245.8a4.8 5.5 0 1 0 .1 0zM2992.8 1285.1a4.8 5.5 0 1 0 .1 0zM2955.3 1361.7a4.8 5.5 0 1 0 .1 0zM2992.6 1377.7a4.8 5.5 0 1 0 .1 0zM2990.8 1282.9a4.8 5.5 0 1 0 .1 0zM2851.7 1457.9a4.8 5.5 0 1 0 .1 0zM2933.2 1353.1a4.8 5.5 0 1 0 .1 0zM2986.4 1255.2a4.8 5.5 0 1 0 .1 0zM2950.7 1258.4a4.8 5.5 0 1 0 .1 0zM2953.4 1320.6a4.8 5.5 0 1 0 .1 0zM2866.8 1380.5a4.8 5.5 0 1 0 .1 0zM3016.7 1218.5a4.8 5.5 0 1 0 .1 0zM2939.9 1237.3a4.8 5.5 0 1 0 .1 0zM3033.5 1286.7a4.8 5.5 0 1 0 .1 0zM3004 1261.9a4.8 5.5 0 1 0 .1 0zM2938.8 1292.5a4.8 5.5 0 1 0 .1 0zM3019.1 1332a4.8 5.5 0 1 0 .1 0zM2983.6 1275.5a4.8 5.5 0 1 0 .1 0zM2781 1568.1a4.8 5.5 0 1 0 .1 0zM2914.6 1515.8a4.8 5.5 0 1 0 .1 0zM2845.8 1600.6a4.8 5.5 0 1 0 .1 0zM2966.8 1416.8a4.8 5.5 0 1 0 .1 0zM2947.1 1282.1a4.8 5.5 0 1 0 .1 0zM2997.8 1336a4.8 5.5 0 1 0 .1 0zM2997.3 1279.5a4.8 5.5 0 1 0 .1 0zM2783.8 1699.3a4.8 5.5 0 1 0 .1 0zM2964.1 1241.1a4.8 5.5 0 1 0 .1 0zM2945.6 1307.7a4.8 5.5 0 1 0 .1 0zM2875.3 1528.1a4.8 5.5 0 1 0 .1 0zM3023.2 1337.2a4.8 5.5 0 1 0 .1 0zM2868.3 1474.5a4.8 5.5 0 1 0 .1 0zM2885.2 1366.1a4.8 5.5 0 1 0 .1 0zM2961.4 1330a4.8 5.5 0 1 0 .1 0zM2935.3 1485.6a4.8 5.5 0 1 0 .1 0zM3012.5 1311a4.8 5.5 0 1 0 .1 0zM3033.4 1290.3a4.8 5.5 0 1 0 .1 0zM2907.7 1342.7a4.8 5.5 0 1 0 .1 0zM2997.7 1404.4a4.8 5.5 0 1 0 .1 0zM2788.7 1702.9a4.8 5.5 0 1 0 .1 0zM2944.6 1491.7a4.8 5.5 0 1 0 .1 0zM3037.6 1303.2a4.8 5.5 0 1 0 .1 0zM2984.2 1304.6a4.8 5.5 0 1 0 .1 0zM2850.3 1568.6a4.8 5.5 0 1 0 .1 0zM2941.8 1471.6a4.8 5.5 0 1 0 .1 0zM2761.5 1432.2a4.8 5.5 0 1 0 .1 0zM2968.6 1308.9a4.8 5.5 0 1 0 .1 0zM2962 1422.2a4.8 5.5 0 1 0 .1 0zM2901.2 1487a4.8 5.5 0 1 0 .1 0zM2973.8 1391.4a4.8 5.5 0 1 0 .1 0zM2994.4 1327.9a4.8 5.5 0 1 0 .1 0zM2921.3 1446.4a4.8 5.5 0 1 0 .1 0zM3036.1 1292.8a4.8 5.5 0 1 0 .1 0zM2818.5 1529.1a4.8 5.5 0 1 0 .1 0zM2977.6 1331.7a4.8 5.5 0 1 0 .1 0zM3014.3 1235.5a4.8 5.5 0 1 0 .1 0zM2880.2 1335.9a4.8 5.5 0 1 0 .1 0zM2933 1400.7a4.8 5.5 0 1 0 .1 0zM2959.6 1401a4.8 5.5 0 1 0 .1 0zM2950.8 1458.3a4.8 5.5 0 1 0 .1 0zM2979.7 1283.4a4.8 5.5 0 1 0 .1 0zM2965 1299.8a4.8 5.5 0 1 0 .1 0zM2940 1273a4.8 5.5 0 1 0 .1 0zM2965.4 1411.2a4.8 5.5 0 1 0 .1 0zM2790.7 1532a4.8 5.5 0 1 0 .1 0zM2941.1 1319.3a4.8 5.5 0 1 0 .1 0zM3011.7 1328.6a4.8 5.5 0 1 0 .1 0zM3011.1 1209.8a4.8 5.5 0 1 0 .1 0zM2855.5 1349.6a4.8 5.5 0 1 0 .1 0zM2908.9 1525.2a4.8 5.5 0 1 0 .1 0zM3026.3 1268a4.8 5.5 0 1 0 .1 0zM2822.1 1640.9a4.8 5.5 0 1 0 .1 0zM3002.3 1317.5a4.8 5.5 0 1 0 .1 0zM2973.7 1323a4.8 5.5 0 1 0 .1 0zM2924 1517a4.8 5.5 0 1 0 .1 0zM3032.1 1283.1a4.8 5.5 0 1 0 .1 0zM2977.8 1386.4a4.8 5.5 0 1 0 .1 0zM2842 1374.7a4.8 5.5 0 1 0 .1 0zM2906 1532.9a4.8 5.5 0 1 0 .1 0zM3021.3 1307.9a4.8 5.5 0 1 0 .1 0zM3025.4 1234.2a4.8 5.5 0 1 0 .1 0zM2990.9 1403.5a4.8 5.5 0 1 0 .1 0zM2942.2 1393.5a4.8 5.5 0 1 0 .1 0zM3032.8 1285.1a4.8 5.5 0 1 0 .1 0zM2896.2 1296.3a4.8 5.5 0 1 0 .1 0zM2915.9 1325.5a4.8 5.5 0 1 0 .1 0zM2967.7 1431a4.8 5.5 0 1 0 .1 0zM2915.6 1469.5a4.8 5.5 0 1 0 .1 0zM2965.6 1374.8a4.8 5.5 0 1 0 .1 0zM2992.2 1246.9a4.8 5.5 0 1 0 .1 0zM2914.5 1421.5a4.8 5.5 0 1 0 .1 0zM2956.5 1431.8a4.8 5.5 0 1 0 .1 0zM2980 1254a4.8 5.5 0 1 0 .1 0zM3017.9 1281.7a4.8 5.5 0 1 0 .1 0zM2814.6 1500.9a4.8 5.5 0 1 0 .1 0zM2938.1 1502.9a4.8 5.5 0 1 0 .1 0zM2767.1 1516.9a4.8 5.5 0 1 0 .1 0zM2875.8 1589.8a4.8 5.5 0 1 0 .1 0zM2947.1 1370.2a4.8 5.5 0 1 0 .1 0zM2997.3 1241.6a4.8 5.5 0 1 0 .1 0zM2889.3 1491.3a4.8 5.5 0 1 0 .1 0zM2885.6 1434.9a4.8 5.5 0 1 0 .1 0zM2973.8 1367.9a4.8 5.5 0 1 0 .1 0zM2975.6 1277.7a4.8 5.5 0 1 0 .1 0zM2883.7 1448.3a4.8 5.5 0 1 0 .1 0zM2929.3 1510.7a4.8 5.5 0 1 0 .1 0zM2858.8 1532.9a4.8 5.5 0 1 0 .1 0zM2983.1 1391.5a4.8 5.5 0 1 0 .1 0zM3020.6 1324.6a4.8 5.5 0 1 0 .1 0zM2985.9 1333a4.8 5.5 0 1 0 .1 0zM2916.6 1484.7a4.8 5.5 0 1 0 .1 0zM3002.3 1411.8a4.8 5.5 0 1 0 .1 0zM2994.9 1222.1a4.8 5.5 0 1 0 .1 0zM2911.1 1380.2a4.8 5.5 0 1 0 .1 0zM2851.9 1599.3a4.8 5.5 0 1 0 .1 0zM2850.7 1498.7a4.8 5.5 0 1 0 .1 0zM2946.2 1289.4a4.8 5.5 0 1 0 .1 0zM2808.4 1616.4a4.8 5.5 0 1 0 .1 0zM2938.6 1347.6a4.8 5.5 0 1 0 .1 0zM2968.9 1360a4.8 5.5 0 1 0 .1 0zM3030.1 1287.2a4.8 5.5 0 1 0 .1 0zM2912.8 1316.5a4.8 5.5 0 1 0 .1 0zM2957.1 1279.7a4.8 5.5 0 1 0 .1 0zM3025.8 1244.7a4.8 5.5 0 1 0 .1 0zM2985.7 1371.4a4.8 5.5 0 1 0 .1 0zM2945.9 1233.3a4.8 5.5 0 1 0 .1 0zM2953.4 1253.4a4.8 5.5 0 1 0 .1 0zM2989.5 1247a4.8 5.5 0 1 0 .1 0zM2952.5 1321.4a4.8 5.5 0 1 0 .1 0zM2982.1 1339.4a4.8 5.5 0 1 0 .1 0zM3021.1 1287a4.8 5.5 0 1 0 .1 0zM3011 1309.8a4.8 5.5 0 1 0 .1 0zM2868 1382.3a4.8 5.5 0 1 0 .1 0zM2979.4 1246.5a4.8 5.5 0 1 0 .1 0zM2954.8 1392.5a4.8 5.5 0 1 0 .1 0zM2921.5 1259.5a4.8 5.5 0 1 0 .1 0zM2992.4 1315.4a4.8 5.5 0 1 0 .1 0zM2966.7 1468.2a4.8 5.5 0 1 0 .1 0zM2821.1 1384.9a4.8 5.5 0 1 0 .1 0zM2984.2 1463.7a4.8 5.5 0 1 0 .1 0zM2977.7 1243.3a4.8 5.5 0 1 0 .1 0zM2989.4 1304.4a4.8 5.5 0 1 0 .1 0zM3006.2 1306.7a4.8 5.5 0 1 0 .1 0zM2975.5 1415.6a4.8 5.5 0 1 0 .1 0zM2880.8 1368.9a4.8 5.5 0 1 0 .1 0zM2973 1391.9a4.8 5.5 0 1 0 .1 0zM2883.5 1592.2a4.8 5.5 0 1 0 .1 0zM2930.8 1407.5a4.8 5.5 0 1 0 .1 0zM3030.8 1231.3a4.8 5.5 0 1 0 .1 0zM3042.5 1289a4.8 5.5 0 1 0 .1 0zM2981 1330.3a4.8 5.5 0 1 0 .1 0zM2995.2 1329.6a4.8 5.5 0 1 0 .1 0zM2958.5 1311.2a4.8 5.5 0 1 0 .1 0zM2935 1389.9a4.8 5.5 0 1 0 .1 0zM2958 1348.4a4.8 5.5 0 1 0 .1 0zM2939.1 1288.1a4.8 5.5 0 1 0 .1 0zM2991.8 1289.5a4.8 5.5 0 1 0 .1 0zM2965.1 1333.1a4.8 5.5 0 1 0 .1 0zM2847.7 1383.4a4.8 5.5 0 1 0 .1 0zM2966.3 1444.2a4.8 5.5 0 1 0 .1 0zM3009.7 1352.5a4.8 5.5 0 1 0 .1 0zM2988.7 1415.3a4.8 5.5 0 1 0 .1 0zM2944 1341.5a4.8 5.5 0 1 0 .1 0zM2989 1255.7a4.8 5.5 0 1 0 .1 0zM2959.5 1278.2a4.8 5.5 0 1 0 .1 0zM2960.6 1234.4a4.8 5.5 0 1 0 .1 0zM2930.7 1470.6a4.8 5.5 0 1 0 .1 0zM2846.2 1564.1a4.8 5.5 0 1 0 .1 0zM2965.5 1392.2a4.8 5.5 0 1 0 .1 0zM2949.3 1426.1a4.8 5.5 0 1 0 .1 0zM3010.3 1256.4a4.8 5.5 0 1 0 .1 0zM2935.7 1420.8a4.8 5.5 0 1 0 .1 0zM2828.2 1381.9a4.8 5.5 0 1 0 .1 0zM2934.8 1341.2a4.8 5.5 0 1 0 .1 0zM2847.2 1625.6a4.8 5.5 0 1 0 .1 0zM2899.1 1313.7a4.8 5.5 0 1 0 .1 0zM2981 1219.7a4.8 5.5 0 1 0 .1 0zM2968.9 1415.7a4.8 5.5 0 1 0 .1 0zM2803.9 1428.9a4.8 5.5 0 1 0 .1 0zM2979.1 1420a4.8 5.5 0 1 0 .1 0zM2940.6 1301.9a4.8 5.5 0 1 0 .1 0zM2945.4 1407.4a4.8 5.5 0 1 0 .1 0zM2980.2 1435.3a4.8 5.5 0 1 0 .1 0zM3006.3 1327.4a4.8 5.5 0 1 0 .1 0zM2970.1 1430.6a4.8 5.5 0 1 0 .1 0zM2980.3 1349.6a4.8 5.5 0 1 0 .1 0zM2964.2 1268.6a4.8 5.5 0 1 0 .1 0zM2996.1 1430a4.8 5.5 0 1 0 .1 0zM2978.8 1243.3a4.8 5.5 0 1 0 .1 0zM2831.5 1515.3a4.8 5.5 0 1 0 .1 0zM2833.5 1571.8a4.8 5.5 0 1 0 .1 0zM2919.9 1450.6a4.8 5.5 0 1 0 .1 0zM2782.6 1714.6a4.8 5.5 0 1 0 .1 0zM2946.5 1334.6a4.8 5.5 0 1 0 .1 0zM2910.2 1370.8a4.8 5.5 0 1 0 .1 0zM2899.5 1286.1a4.8 5.5 0 1 0 .1 0zM3039.5 1268.9a4.8 5.5 0 1 0 .1 0zM2973.7 1328.7a4.8 5.5 0 1 0 .1 0zM2924.9 1337.5a4.8 5.5 0 1 0 .1 0zM2998.6 1348.5a4.8 5.5 0 1 0 .1 0zM3039.6 1250.9a4.8 5.5 0 1 0 .1 0zM2975.4 1224.2a4.8 5.5 0 1 0 .1 0zM2954.4 1351.7a4.8 5.5 0 1 0 .1 0zM2922.1 1414.7a4.8 5.5 0 1 0 .1 0zM2955.1 1325.6a4.8 5.5 0 1 0 .1 0zM2918.8 1453a4.8 5.5 0 1 0 .1 0zM2832.6 1520.4a4.8 5.5 0 1 0 .1 0zM2995.7 1253.6a4.8 5.5 0 1 0 .1 0zM2945.9 1317.1a4.8 5.5 0 1 0 .1 0zM2883.4 1555.5a4.8 5.5 0 1 0 .1 0zM2868 1490.1a4.8 5.5 0 1 0 .1 0zM3048.2 1247.6a4.8 5.5 0 1 0 .1 0zM2994.4 1244.1a4.8 5.5 0 1 0 .1 0zM2833 1406.8a4.8 5.5 0 1 0 .1 0zM2987.1 1310.1a4.8 5.5 0 1 0 .1 0zM2921.6 1318a4.8 5.5 0 1 0 .1 0zM3011.9 1296.9a4.8 5.5 0 1 0 .1 0zM2983.1 1320a4.8 5.5 0 1 0 .1 0zM3009.7 1400.5a4.8 5.5 0 1 0 .1 0zM2959.1 1396.8a4.8 5.5 0 1 0 .1 0zM2924 1371.2a4.8 5.5 0 1 0 .1 0zM2946 1408.2a4.8 5.5 0 1 0 .1 0zM3011.8 1331a4.8 5.5 0 1 0 .1 0zM3001.2 1267.4a4.8 5.5 0 1 0 .1 0zM3036.9 1308.3a4.8 5.5 0 1 0 .1 0zM2821.5 1655.3a4.8 5.5 0 1 0 .1 0zM2985.9 1395.2a4.8 5.5 0 1 0 .1 0zM2915.1 1393.3a4.8 5.5 0 1 0 .1 0zM2968.6 1364.7a4.8 5.5 0 1 0 .1 0zM2977.4 1296.6a4.8 5.5 0 1 0 .1 0zM2946.5 1442.2a4.8 5.5 0 1 0 .1 0zM2969.3 1272.8a4.8 5.5 0 1 0 .1 0zM2913.8 1367.3a4.8 5.5 0 1 0 .1 0zM2916 1470.8a4.8 5.5 0 1 0 .1 0zM2906.8 1476.7a4.8 5.5 0 1 0 .1 0zM3041 1263.7a4.8 5.5 0 1 0 .1 0zM3047.5 1277.2a4.8 5.5 0 1 0 .1 0zM2927.2 1365.2a4.8 5.5 0 1 0 .1 0zM2943.1 1468.1a4.8 5.5 0 1 0 .1 0zM2896.5 1297.3a4.8 5.5 0 1 0 .1 0zM2992.7 1299a4.8 5.5 0 1 0 .1 0zM2831.6 1547.9a4.8 5.5 0 1 0 .1 0zM2837.9 1631.1a4.8 5.5 0 1 0 .1 0zM2974.1 1381.9a4.8 5.5 0 1 0 .1 0zM2981.9 1338.6a4.8 5.5 0 1 0 .1 0zM2830.5 1407.3a4.8 5.5 0 1 0 .1 0zM2989.2 1312.4a4.8 5.5 0 1 0 .1 0zM2975.1 1371a4.8 5.5 0 1 0 .1 0zM2803.2 1520.9a4.8 5.5 0 1 0 .1 0zM2988.4 1322a4.8 5.5 0 1 0 .1 0zM3024.1 1324.8a4.8 5.5 0 1 0 .1 0zM2969.5 1438.5a4.8 5.5 0 1 0 .1 0zM3007.1 1352.6a4.8 5.5 0 1 0 .1 0zM2835.1 1464.4a4.8 5.5 0 1 0 .1 0zM2993.8 1323.7a4.8 5.5 0 1 0 .1 0zM3011.2 1263.5a4.8 5.5 0 1 0 .1 0zM2994.6 1217.7a4.8 5.5 0 1 0 .1 0zM2962 1395.6a4.8 5.5 0 1 0 .1 0zM3024.2 1306.7a4.8 5.5 0 1 0 .1 0zM3035.4 1313.2a4.8 5.5 0 1 0 .1 0zM3030.1 1271.9a4.8 5.5 0 1 0 .1 0zM2960.4 1237a4.8 5.5 0 1 0 .1 0zM2936.4 1275.5a4.8 5.5 0 1 0 .1 0zM2950.2 1296.2a4.8 5.5 0 1 0 .1 0zM2971.7 1385.1a4.8 5.5 0 1 0 .1 0zM2950.3 1457.4a4.8 5.5 0 1 0 .1 0zM2832.9 1438a4.8 5.5 0 1 0 .1 0zM2928.3 1524.3a4.8 5.5 0 1 0 .1 0zM2976.4 1424.7a4.8 5.5 0 1 0 .1 0zM2984.1 1338.9a4.8 5.5 0 1 0 .1 0zM2897.1 1488.1a4.8 5.5 0 1 0 .1 0zM2961.3 1376a4.8 5.5 0 1 0 .1 0zM2972.4 1306.8a4.8 5.5 0 1 0 .1 0zM2949.7 1244.3a4.8 5.5 0 1 0 .1 0zM2846.4 1588.8a4.8 5.5 0 1 0 .1 0zM2921 1280.5a4.8 5.5 0 1 0 .1 0zM2914.9 1394.2a4.8 5.5 0 1 0 .1 0zM2971.6 1427.9a4.8 5.5 0 1 0 .1 0zM3036 1281.5a4.8 5.5 0 1 0 .1 0zM3027.4 1215.2a4.8 5.5 0 1 0 .1 0zM3029.9 1239.4a4.8 5.5 0 1 0 .1 0zM2823.8 1452.9a4.8 5.5 0 1 0 .1 0zM2891.9 1377.3a4.8 5.5 0 1 0 .1 0zM2941.4 1405.1a4.8 5.5 0 1 0 .1 0zM3015.5 1242.1a4.8 5.5 0 1 0 .1 0zM2972.7 1332.1a4.8 5.5 0 1 0 .1 0zM2960.5 1454.4a4.8 5.5 0 1 0 .1 0zM2926.2 1486.7a4.8 5.5 0 1 0 .1 0zM2879 1533.7a4.8 5.5 0 1 0 .1 0zM2996.2 1384.4a4.8 5.5 0 1 0 .1 0zM2970.5 1302.8a4.8 5.5 0 1 0 .1 0zM3000.4 1264.4a4.8 5.5 0 1 0 .1 0zM2893.1 1469.6a4.8 5.5 0 1 0 .1 0zM2953.4 1392a4.8 5.5 0 1 0 .1 0zM2895 1457.6a4.8 5.5 0 1 0 .1 0zM2974.4 1214.5a4.8 5.5 0 1 0 .1 0zM2809.1 1478.8a4.8 5.5 0 1 0 .1 0zM2987.9 1403.2a4.8 5.5 0 1 0 .1 0zM2759.5 1509.9a4.8 5.5 0 1 0 .1 0zM2998.2 1327.5a4.8 5.5 0 1 0 .1 0zM2932.7 1409.7a4.8 5.5 0 1 0 .1 0zM2976.6 1265.7a4.8 5.5 0 1 0 .1 0zM2968.2 1276.3a4.8 5.5 0 1 0 .1 0zM2926.2 1376.6a4.8 5.5 0 1 0 .1 0zM2975.8 1276.3a4.8 5.5 0 1 0 .1 0zM2981.4 1252.4a4.8 5.5 0 1 0 .1 0zM2900 1316.9a4.8 5.5 0 1 0 .1 0zM2964 1317.3a4.8 5.5 0 1 0 .1 0zM2839.1 1438.4a4.8 5.5 0 1 0 .1 0zM2899.9 1318.3a4.8 5.5 0 1 0 .1 0zM2888 1428a4.8 5.5 0 1 0 .1 0zM2948.9 1404.6a4.8 5.5 0 1 0 .1 0zM2790 1648.5a4.8 5.5 0 1 0 .1 0zM3013.7 1349.9a4.8 5.5 0 1 0 .1 0zM2870.4 1450.7a4.8 5.5 0 1 0 .1 0zM3010.9 1329.1a4.8 5.5 0 1 0 .1 0zM2964.2 1242.5a4.8 5.5 0 1 0 .1 0zM2916 1413.3a4.8 5.5 0 1 0 .1 0zM2958.8 1375.1a4.8 5.5 0 1 0 .1 0zM2895.2 1515a4.8 5.5 0 1 0 .1 0zM2826.9 1408.6a4.8 5.5 0 1 0 .1 0zM2970.7 1247.2a4.8 5.5 0 1 0 .1 0zM2984.6 1228a4.8 5.5 0 1 0 .1 0zM2998.3 1362a4.8 5.5 0 1 0 .1 0zM3034.2 1267.3a4.8 5.5 0 1 0 .1 0zM2938.3 1394.6a4.8 5.5 0 1 0 .1 0zM2865.2 1611.6a4.8 5.5 0 1 0 .1 0zM2956.9 1299.3a4.8 5.5 0 1 0 .1 0zM3018.4 1220.6a4.8 5.5 0 1 0 .1 0zM2952.4 1369.3a4.8 5.5 0 1 0 .1 0zM2812.9 1663.8a4.8 5.5 0 1 0 .1 0zM2939.8 1348.9a4.8 5.5 0 1 0 .1 0zM2878.2 1443a4.8 5.5 0 1 0 .1 0zM2812.5 1479a4.8 5.5 0 1 0 .1 0zM2800.8 1612.8a4.8 5.5 0 1 0 .1 0zM3003.4 1287.9a4.8 5.5 0 1 0 .1 0zM2983.2 1315.6a4.8 5.5 0 1 0 .1 0zM2966.6 1297.8a4.8 5.5 0 1 0 .1 0zM2971.8 1361.6a4.8 5.5 0 1 0 .1 0zM3024.2 1332.7a4.8 5.5 0 1 0 .1 0zM2923.4 1271.6a4.8 5.5 0 1 0 .1 0zM2831.1 1491.1a4.8 5.5 0 1 0 .1 0zM2969.4 1451a4.8 5.5 0 1 0 .1 0zM2811.3 1528.6a4.8 5.5 0 1 0 .1 0zM3018.8 1314.8a4.8 5.5 0 1 0 .1 0zM2917.6 1467.9a4.8 5.5 0 1 0 .1 0zM2984 1293.3a4.8 5.5 0 1 0 .1 0zM3045.2 1279.1a4.8 5.5 0 1 0 .1 0zM2863.6 1329.9a4.8 5.5 0 1 0 .1 0zM3021.7 1278.4a4.8 5.5 0 1 0 .1 0zM2888.2 1596.1a4.8 5.5 0 1 0 .1 0zM2782.5 1538.3a4.8 5.5 0 1 0 .1 0zM3041.5 1246.4a4.8 5.5 0 1 0 .1 0zM2965 1284.1a4.8 5.5 0 1 0 .1 0zM2919.6 1370.1a4.8 5.5 0 1 0 .1 0zM2902.6 1449.8a4.8 5.5 0 1 0 .1 0zM2984 1342.4a4.8 5.5 0 1 0 .1 0zM3013.7 1257.8a4.8 5.5 0 1 0 .1 0zM2984.1 1343.2a4.8 5.5 0 1 0 .1 0zM2960.4 1325.2a4.8 5.5 0 1 0 .1 0zM2955.8 1264.1a4.8 5.5 0 1 0 .1 0zM2973.5 1324.1a4.8 5.5 0 1 0 .1 0zM2913.8 1396.7a4.8 5.5 0 1 0 .1 0zM3032.8 1285.4a4.8 5.5 0 1 0 .1 0zM3016.3 1272.9a4.8 5.5 0 1 0 .1 0zM2905.3 1434.1a4.8 5.5 0 1 0 .1 0zM3019.1 1357.8a4.8 5.5 0 1 0 .1 0zM2971.4 1469.8a4.8 5.5 0 1 0 .1 0zM2962.3 1433.6a4.8 5.5 0 1 0 .1 0zM2801.5 1479.9a4.8 5.5 0 1 0 .1 0zM2963.2 1461.3a4.8 5.5 0 1 0 .1 0zM3015.9 1371.8a4.8 5.5 0 1 0 .1 0zM2970.7 1406.3a4.8 5.5 0 1 0 .1 0zM2971 1302.6a4.8 5.5 0 1 0 .1 0zM2988.8 1378.2a4.8 5.5 0 1 0 .1 0zM2892.6 1570.4a4.8 5.5 0 1 0 .1 0zM2748.9 1435a4.8 5.5 0 1 0 .1 0zM3008.3 1215.1a4.8 5.5 0 1 0 .1 0zM2901.2 1335.6a4.8 5.5 0 1 0 .1 0zM2946.2 1469.7a4.8 5.5 0 1 0 .1 0zM2899.6 1401.1a4.8 5.5 0 1 0 .1 0zM2940.1 1289.4a4.8 5.5 0 1 0 .1 0zM3019.2 1231.2a4.8 5.5 0 1 0 .1 0zM2969.8 1368.1a4.8 5.5 0 1 0 .1 0zM2994.5 1229.9a4.8 5.5 0 1 0 .1 0zM3016.3 1331.8a4.8 5.5 0 1 0 .1 0zM2875.5 1325.3a4.8 5.5 0 1 0 .1 0zM2905.5 1448.7a4.8 5.5 0 1 0 .1 0zM2870.5 1466.4a4.8 5.5 0 1 0 .1 0zM2834.4 1604.2a4.8 5.5 0 1 0 .1 0zM2906.5 1328.4a4.8 5.5 0 1 0 .1 0zM3016.3 1309.9a4.8 5.5 0 1 0 .1 0zM2926.4 1318.6a4.8 5.5 0 1 0 .1 0zM2963.1 1426.4a4.8 5.5 0 1 0 .1 0zM2835.5 1586.1a4.8 5.5 0 1 0 .1 0zM2891.6 1417.6a4.8 5.5 0 1 0 .1 0zM2805.9 1578.6a4.8 5.5 0 1 0 .1 0zM2947.4 1275.8a4.8 5.5 0 1 0 .1 0zM3004.4 1233.5a4.8 5.5 0 1 0 .1 0zM2813.3 1660.3a4.8 5.5 0 1 0 .1 0zM2911.8 1404.9a4.8 5.5 0 1 0 .1 0zM2936.9 1255.8a4.8 5.5 0 1 0 .1 0zM2918.5 1515a4.8 5.5 0 1 0 .1 0zM2894 1446.5a4.8 5.5 0 1 0 .1 0zM2906.8 1403.5a4.8 5.5 0 1 0 .1 0zM3029.7 1326a4.8 5.5 0 1 0 .1 0zM2958.4 1403.5a4.8 5.5 0 1 0 .1 0zM2941.7 1276.6a4.8 5.5 0 1 0 .1 0zM3000.1 1339.4a4.8 5.5 0 1 0 .1 0zM2896.2 1550.2a4.8 5.5 0 1 0 .1 0zM2845 1577.3a4.8 5.5 0 1 0 .1 0zM2923.1 1451.3a4.8 5.5 0 1 0 .1 0zM2947.3 1326.4a4.8 5.5 0 1 0 .1 0zM2968.2 1282.4a4.8 5.5 0 1 0 .1 0zM2881.2 1464a4.8 5.5 0 1 0 .1 0zM2987.2 1355.6a4.8 5.5 0 1 0 .1 0zM2960.4 1347.8a4.8 5.5 0 1 0 .1 0zM2894.3 1447.7a4.8 5.5 0 1 0 .1 0zM2757.6 1465.1a4.8 5.5 0 1 0 .1 0zM2781.5 1548.6a4.8 5.5 0 1 0 .1 0zM2919.8 1356.6a4.8 5.5 0 1 0 .1 0zM2952.2 1292.7a4.8 5.5 0 1 0 .1 0zM2941.1 1441.4a4.8 5.5 0 1 0 .1 0zM2972.4 1268.7a4.8 5.5 0 1 0 .1 0zM2876.9 1547.3a4.8 5.5 0 1 0 .1 0zM2950.6 1316a4.8 5.5 0 1 0 .1 0zM3017.1 1336.7a4.8 5.5 0 1 0 .1 0zM2986.1 1294.2a4.8 5.5 0 1 0 .1 0zM2906 1465.2a4.8 5.5 0 1 0 .1 0zM2943.4 1303.1a4.8 5.5 0 1 0 .1 0zM2991.9 1363.9a4.8 5.5 0 1 0 .1 0zM2961.1 1333.5a4.8 5.5 0 1 0 .1 0zM2956.2 1376.3a4.8 5.5 0 1 0 .1 0zM2881.3 1426.2a4.8 5.5 0 1 0 .1 0zM3004.8 1407a4.8 5.5 0 1 0 .1 0zM2822.1 1552.4a4.8 5.5 0 1 0 .1 0zM2893.9 1469.8a4.8 5.5 0 1 0 .1 0zM3007.5 1209.7a4.8 5.5 0 1 0 .1 0zM2929.3 1339.7a4.8 5.5 0 1 0 .1 0zM2931.5 1476.8a4.8 5.5 0 1 0 .1 0zM2841.7 1618.7a4.8 5.5 0 1 0 .1 0zM2965.6 1287.5a4.8 5.5 0 1 0 .1 0zM2786 1429.6a4.8 5.5 0 1 0 .1 0zM2793.2 1563.8a4.8 5.5 0 1 0 .1 0zM2972.2 1365.1a4.8 5.5 0 1 0 .1 0zM3020.3 1312a4.8 5.5 0 1 0 .1 0zM2955.8 1445.8a4.8 5.5 0 1 0 .1 0zM2980.2 1261a4.8 5.5 0 1 0 .1 0z" fill="none" stroke="#2F4B9B" stroke-width="5"/>
<line x1="2294.6" y1="1559.7" x2="3073.6" y2="1559.7" stroke="#C8232D" stroke-width="4"/>
<line x1="2915.4" y1="1171.9" x2="2915.4" y2="1957.4" stroke="#C8232D" stroke-width="4.2"/>
<rect x="2290.6" y="1171.9" width="788.2" height="785.5" fill="none" stroke="#111" stroke-width="3.6"/>
<line x1="2315.3" y1="1944.4" x2="2315.3" y2="1957.4" stroke="#111" stroke-width="3"/>
<text x="2315.3" y="2016.3" font-size="53" text-anchor="middle">0</text>
<line x1="2290.6" y1="1930.6" x2="2304.6" y2="1930.6" stroke="#111" stroke-width="3"/>
<text x="2268.4" y="1944.9" font-size="53" text-anchor="end">0</text>
<line x1="2465.5" y1="1944.4" x2="2465.5" y2="1957.4" stroke="#111" stroke-width="3"/>
<text x="2465.5" y="2016.3" font-size="53" text-anchor="middle">0.2</text>
<line x1="2290.6" y1="1782.9" x2="2304.6" y2="1782.9" stroke="#111" stroke-width="3"/>
<text x="2268.4" y="1797.2" font-size="53" text-anchor="end">0.2</text>
<line x1="2615.6" y1="1944.4" x2="2615.6" y2="1957.4" stroke="#111" stroke-width="3"/>
<text x="2615.6" y="2016.3" font-size="53" text-anchor="middle">0.4</text>
<line x1="2290.6" y1="1635.1" x2="2304.6" y2="1635.1" stroke="#111" stroke-width="3"/>
<text x="2268.4" y="1649.4" font-size="53" text-anchor="end">0.4</text>
<line x1="2765.8" y1="1944.4" x2="2765.8" y2="1957.4" stroke="#111" stroke-width="3"/>
<text x="2765.8" y="2016.3" font-size="53" text-anchor="middle">0.6</text>
<line x1="2290.6" y1="1487.4" x2="2304.6" y2="1487.4" stroke="#111" stroke-width="3"/>
<text x="2268.4" y="1501.7" font-size="53" text-anchor="end">0.6</text>
<line x1="2915.9" y1="1944.4" x2="2915.9" y2="1957.4" stroke="#111" stroke-width="3"/>
<text x="2915.9" y="2016.3" font-size="53" text-anchor="middle">0.8</text>
<line x1="2290.6" y1="1339.6" x2="2304.6" y2="1339.6" stroke="#111" stroke-width="3"/>
<text x="2268.4" y="1353.9" font-size="53" text-anchor="end">0.8</text>
<line x1="3066.1" y1="1944.4" x2="3066.1" y2="1957.4" stroke="#111" stroke-width="3"/>
<text x="3066.1" y="2016.3" font-size="53" text-anchor="middle">1.0</text>
<line x1="2290.6" y1="1191.9" x2="2304.6" y2="1191.9" stroke="#111" stroke-width="3"/>
<text x="2268.4" y="1206.2" font-size="53" text-anchor="end">1.0</text>
<text x="2335.4" y="1310.8" font-size="53" textLength="417" lengthAdjust="spacingAndGlyphs"><tspan class="it">r</tspan>=0.90, <tspan class="it">P</tspan>&lt;1E−200</text>
<text x="2338" y="2083.6" font-size="54" textLength="690.1" lengthAdjust="spacingAndGlyphs"><tspan class="cj" font-size="56.2">模块身份</tspan> module membership</text>
<text transform="translate(2126.1 1566.5) rotate(-90)" font-size="56" text-anchor="middle" textLength="278" lengthAdjust="spacingAndGlyphs" class="cj">基因显著性</text>
<text transform="translate(2192.3 1563.8) rotate(-90)" font-size="54" text-anchor="middle" textLength="386" lengthAdjust="spacingAndGlyphs">gene significance</text>
<text x="1251" y="2162.8" font-size="54" textLength="831" lengthAdjust="spacingAndGlyphs">e) <tspan class="cj" font-size="56.2">红色模块基因与肉质性状相关性</tspan></text>
<text x="1226" y="2228.6" font-size="53" textLength="882" lengthAdjust="spacingAndGlyphs">correlation between the genes in the red</text>
<text x="1395.9" y="2297.1" font-size="53" textLength="542" lengthAdjust="spacingAndGlyphs">module and pork quality</text>
<text x="2268" y="2162.8" font-size="54" textLength="829" lengthAdjust="spacingAndGlyphs">f) <tspan class="cj" font-size="56.2">蓝色模块基因与肉质性状相关性</tspan></text>
<text x="2229" y="2228.6" font-size="53" textLength="909" lengthAdjust="spacingAndGlyphs">correlation between the genes in the blue</text>
<text x="2410.5" y="2297.1" font-size="53" textLength="542" lengthAdjust="spacingAndGlyphs">module and pork quality</text>
</svg></body></html>
